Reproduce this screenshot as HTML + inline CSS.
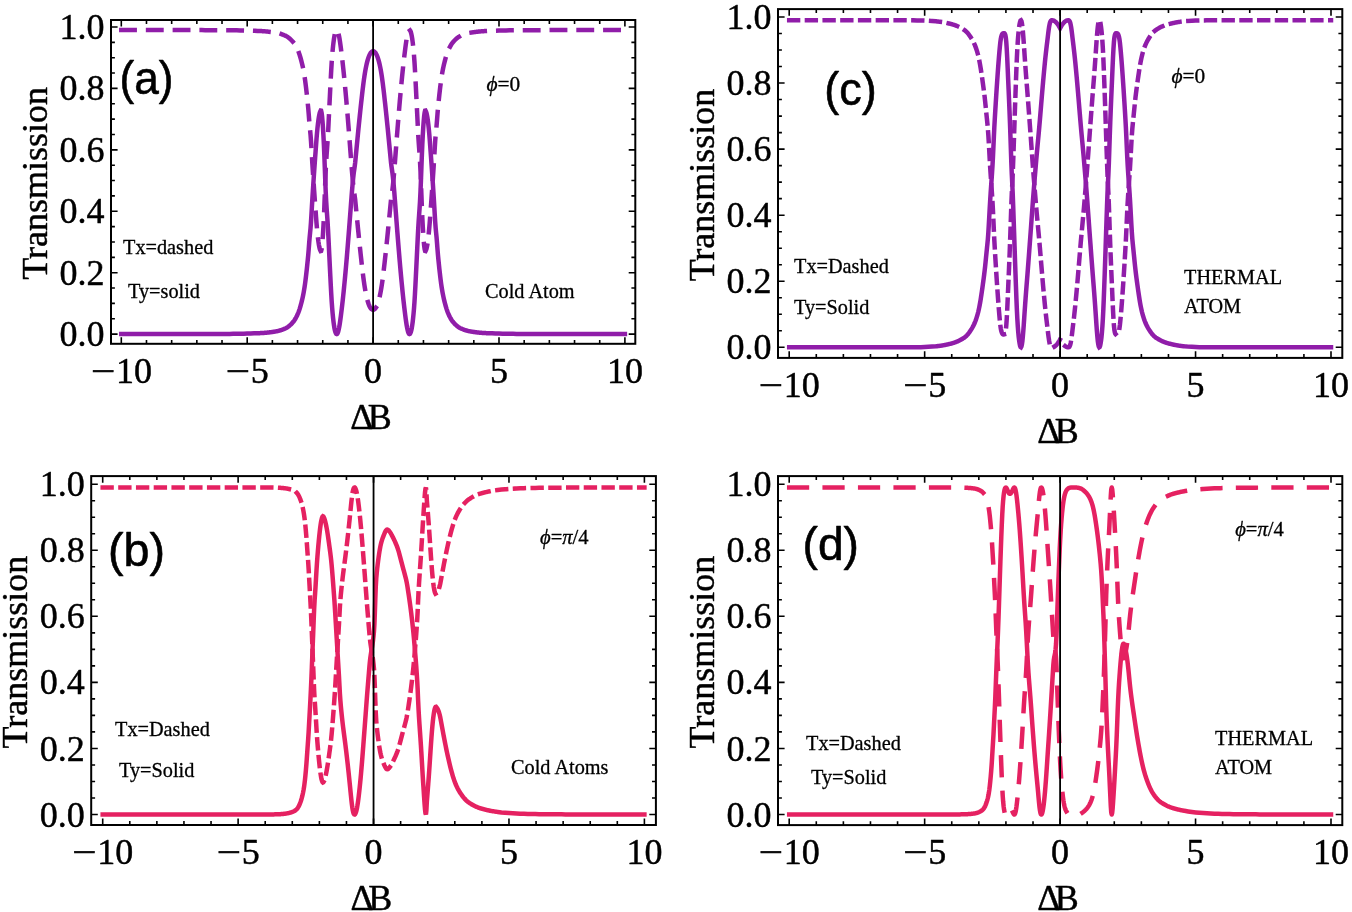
<!DOCTYPE html>
<html lang="en"><head><meta charset="utf-8"><title>Transmission versus ΔB</title>
<style>html,body{margin:0;padding:0;background:#fff;overflow:hidden}body{width:1352px;height:912px}svg{display:block}text{font-family:"Liberation Serif", "DejaVu Serif", serif;fill:#000;stroke:#000;stroke-width:.45px;stroke-linejoin:round}text.tag{font-family:"Liberation Sans", "DejaVu Sans", sans-serif;stroke-width:.6px}text.sm{stroke-width:.3px}</style></head><body>
<svg width="1352" height="912" viewBox="0 0 1352 912">
<rect width="1352" height="912" fill="#fff"/>
<g id="panel-a">
<clipPath id="clip-a"><rect x="111" y="20" width="524.3" height="323.8"/></clipPath>
<g clip-path="url(#clip-a)">
<path d="M121.3 30.07 L124.8 30.07 L128.29 30.07 L131.79 30.07 L135.28 30.07 L138.78 30.07 L142.28 30.07 L145.77 30.07 L149.27 30.07 L152.76 30.07 L156.26 30.07 L159.75 30.07 L163.25 30.07 L166.75 30.07 L170.24 30.07 L173.74 30.07 L177.23 30.08 L180.73 30.08 L184.23 30.08 L187.72 30.09 L191.22 30.09 L194.71 30.1 L198.21 30.1 L201.71 30.11 L205.2 30.13 L208.7 30.14 L212.19 30.16 L215.69 30.18 L219.19 30.2 L222.68 30.23 L226.18 30.26 L229.67 30.29 L233.17 30.32 L236.66 30.36 L240.16 30.42 L243.66 30.49 L247.15 30.57 L250.65 30.67 L254.14 30.79 L257.64 30.93 L258.1 30.95 L258.56 30.97 L259.02 30.99 L259.48 31.01 L259.94 31.03 L260.4 31.05 L260.86 31.07 L261.32 31.09 L261.78 31.12 L262.24 31.15 L262.7 31.17 L263.16 31.2 L263.62 31.24 L264.08 31.27 L264.54 31.31 L265 31.34 L265.46 31.38 L265.92 31.42 L266.38 31.47 L266.84 31.51 L267.3 31.56 L267.76 31.6 L268.22 31.65 L268.68 31.7 L269.14 31.76 L269.6 31.81 L270.06 31.87 L270.52 31.92 L270.98 31.98 L271.44 32.04 L271.9 32.11 L272.36 32.17 L272.82 32.24 L273.28 32.3 L273.74 32.37 L274.2 32.44 L274.66 32.51 L275.12 32.58 L275.58 32.66 L276.04 32.74 L276.5 32.83 L276.96 32.93 L277.42 33.02 L277.88 33.13 L278.34 33.24 L278.8 33.36 L279.26 33.48 L279.72 33.61 L280.18 33.75 L280.64 33.89 L281.1 34.04 L281.56 34.19 L282.02 34.35 L282.48 34.52 L282.94 34.69 L283.4 34.87 L283.86 35.06 L284.32 35.25 L284.78 35.45 L285.24 35.65 L285.7 35.87 L286.16 36.1 L286.62 36.36 L287.08 36.63 L287.54 36.93 L288 37.24 L288.46 37.57 L288.92 37.93 L289.38 38.3 L289.84 38.69 L290.3 39.1 L290.76 39.54 L291.22 39.98 L291.68 40.45 L292.14 40.94 L292.6 41.44 L293.06 41.97 L293.52 42.54 L293.98 43.15 L294.44 43.81 L294.9 44.51 L295.36 45.26 L295.82 46.06 L296.28 46.91 L296.74 47.81 L297.2 48.76 L297.66 49.76 L298.12 50.81 L298.58 51.96 L299.04 53.2 L299.5 54.54 L299.96 55.98 L300.42 57.51 L300.88 59.14 L301.34 60.87 L301.8 62.69 L302.26 64.61 L302.72 66.63 L303.18 68.8 L303.64 71.15 L304.1 73.71 L304.56 76.54 L305.02 79.66 L305.48 83.08 L305.94 86.77 L306.4 90.68 L306.86 94.78 L307.32 99.07 L307.78 103.59 L308.24 108.38 L308.7 113.83 L309.16 119.89 L309.62 125.55 L310.08 130.18 L310.54 134.88 L311 140.97 L311.46 148.39 L311.92 156.35 L312.38 164.05 L312.84 171.19 L313.3 178.17 L313.76 185 L314.22 191.67 L314.68 198.21 L315.14 204.62 L315.6 210.9 L316.06 217.07 L316.52 223.09 L316.98 228.56 L317.44 233.4 L317.9 237.63 L318.36 241.27 L318.82 244.33 L319.28 246.83 L319.74 248.79 L320.2 250.2 L320.66 251.1 L321.12 250.99 L321.58 249.15 L322.04 245.69 L322.5 240.72 L322.96 234.35 L323.42 226.68 L323.88 217.77 L324.34 206.87 L324.8 194.59 L325.26 182.14 L325.72 170.76 L326.18 161.59 L326.64 154.28 L327.1 147.8 L327.56 141.24 L328.02 133.74 L328.48 124.69 L328.94 115.26 L329.4 105.85 L329.86 96.56 L330.32 87.42 L330.78 78.35 L331.24 69.83 L331.7 62.27 L332.16 55.94 L332.62 50.55 L333.08 45.9 L333.54 41.94 L334 38.62 L334.46 35.89 L334.92 33.72 L335.38 32.07 L335.84 30.92 L336.3 30.26 L336.76 30.07 L337.22 30.36 L337.68 31.12 L338.14 32.35 L338.6 34.04 L339.06 36.18 L339.52 38.71 L339.98 41.61 L340.44 44.82 L340.9 48.29 L341.36 51.95 L341.82 55.73 L342.28 59.61 L342.74 63.66 L343.2 67.88 L343.66 72.27 L344.12 76.82 L344.58 81.5 L345.04 86.32 L345.5 91.26 L345.96 96.33 L346.42 101.53 L346.88 106.87 L347.34 112.33 L347.8 117.9 L348.26 123.58 L348.72 129.34 L349.18 135.18 L349.64 141.08 L350.1 147.02 L350.56 153.01 L351.02 159.03 L351.48 165.08 L351.94 170.85 L352.4 176.18 L352.86 181.13 L353.32 185.74 L353.78 189.56 L354.24 192.79 L354.7 195.96 L355.16 199.58 L355.62 204.11 L356.08 208.9 L356.54 213.66 L357 218.39 L357.46 223.09 L357.92 227.73 L358.38 232.33 L358.84 236.87 L359.3 241.35 L359.76 245.76 L360.22 250.11 L360.68 254.38 L361.14 258.57 L361.6 262.68 L362.06 266.7 L362.52 270.64 L362.98 274.48 L363.44 278.15 L363.9 281.57 L364.36 284.74 L364.82 287.66 L365.28 290.37 L365.74 292.85 L366.2 295.12 L366.66 297.19 L367.12 299.07 L367.58 300.78 L368.04 302.31 L368.5 303.68 L368.96 304.89 L369.42 305.96 L369.88 306.88 L370.34 307.67 L370.8 308.33 L371.26 308.86 L371.72 309.27 L372.18 309.57 L372.64 309.74 L373.1 309.8 L373.56 309.74 L374.02 309.57 L374.48 309.27 L374.94 308.86 L375.4 308.33 L375.86 307.67 L376.32 306.88 L376.78 305.96 L377.24 304.89 L377.7 303.68 L378.16 302.31 L378.62 300.78 L379.08 299.07 L379.54 297.19 L380 295.12 L380.46 292.85 L380.92 290.37 L381.38 287.66 L381.84 284.74 L382.3 281.57 L382.76 278.15 L383.22 274.48 L383.68 270.64 L384.14 266.7 L384.6 262.68 L385.06 258.57 L385.52 254.38 L385.98 250.11 L386.44 245.76 L386.9 241.35 L387.36 236.87 L387.82 232.33 L388.28 227.73 L388.74 223.09 L389.2 218.39 L389.66 213.66 L390.12 208.9 L390.58 204.11 L391.04 199.58 L391.5 195.96 L391.96 192.79 L392.42 189.56 L392.88 185.74 L393.34 181.13 L393.8 176.18 L394.26 170.85 L394.72 165.08 L395.18 159.03 L395.64 153.01 L396.1 147.02 L396.56 141.08 L397.02 135.18 L397.48 129.34 L397.94 123.58 L398.4 117.9 L398.86 112.33 L399.32 106.87 L399.78 101.53 L400.24 96.33 L400.7 91.26 L401.16 86.32 L401.62 81.5 L402.08 76.82 L402.54 72.27 L403 67.88 L403.46 63.66 L403.92 59.61 L404.38 55.73 L404.84 51.95 L405.3 48.29 L405.76 44.82 L406.22 41.61 L406.68 38.71 L407.14 36.18 L407.6 34.04 L408.06 32.35 L408.52 31.12 L408.98 30.36 L409.44 30.07 L409.9 30.26 L410.36 30.92 L410.82 32.07 L411.28 33.72 L411.74 35.89 L412.2 38.62 L412.66 41.94 L413.12 45.9 L413.58 50.55 L414.04 55.94 L414.5 62.27 L414.96 69.83 L415.42 78.35 L415.88 87.42 L416.34 96.56 L416.8 105.85 L417.26 115.26 L417.72 124.69 L418.18 133.74 L418.64 141.24 L419.1 147.8 L419.56 154.28 L420.02 161.59 L420.48 170.76 L420.94 182.14 L421.4 194.59 L421.86 206.87 L422.32 217.77 L422.78 226.68 L423.24 234.35 L423.7 240.72 L424.16 245.69 L424.62 249.15 L425.08 250.99 L425.54 251.1 L426 250.2 L426.46 248.79 L426.92 246.83 L427.38 244.33 L427.84 241.27 L428.3 237.63 L428.76 233.4 L429.22 228.56 L429.68 223.09 L430.14 217.07 L430.6 210.9 L431.06 204.62 L431.52 198.21 L431.98 191.67 L432.44 185 L432.9 178.17 L433.36 171.19 L433.82 164.05 L434.28 156.35 L434.74 148.39 L435.2 140.97 L435.66 134.88 L436.12 130.18 L436.58 125.55 L437.04 119.89 L437.5 113.83 L437.96 108.38 L438.42 103.59 L438.88 99.07 L439.34 94.78 L439.8 90.68 L440.26 86.77 L440.72 83.08 L441.18 79.66 L441.64 76.54 L442.1 73.71 L442.56 71.15 L443.02 68.8 L443.48 66.63 L443.94 64.61 L444.4 62.69 L444.86 60.87 L445.32 59.14 L445.78 57.51 L446.24 55.98 L446.7 54.54 L447.16 53.2 L447.62 51.96 L448.08 50.81 L448.54 49.76 L449 48.76 L449.46 47.81 L449.92 46.91 L450.38 46.06 L450.84 45.26 L451.3 44.51 L451.76 43.81 L452.22 43.15 L452.68 42.54 L453.14 41.97 L453.6 41.44 L454.06 40.94 L454.52 40.45 L454.98 39.98 L455.44 39.54 L455.9 39.1 L456.36 38.69 L456.82 38.3 L457.28 37.93 L457.74 37.57 L458.2 37.24 L458.66 36.93 L459.12 36.63 L459.58 36.36 L460.04 36.1 L460.5 35.87 L460.96 35.65 L461.42 35.45 L461.88 35.25 L462.34 35.06 L462.8 34.87 L463.26 34.69 L463.72 34.52 L464.18 34.35 L464.64 34.19 L465.1 34.04 L465.56 33.89 L466.02 33.75 L466.48 33.61 L466.94 33.48 L467.4 33.36 L467.86 33.24 L468.32 33.13 L468.78 33.02 L469.24 32.93 L469.7 32.83 L470.16 32.74 L470.62 32.66 L471.08 32.58 L471.54 32.51 L472 32.44 L472.46 32.37 L472.92 32.3 L473.38 32.24 L473.84 32.17 L474.3 32.11 L474.76 32.04 L475.22 31.98 L475.68 31.92 L476.14 31.87 L476.6 31.81 L477.06 31.76 L477.52 31.7 L477.98 31.65 L478.44 31.6 L478.9 31.56 L479.36 31.51 L479.82 31.47 L480.28 31.42 L480.74 31.38 L481.2 31.34 L481.66 31.31 L482.12 31.27 L482.58 31.24 L483.04 31.2 L483.5 31.17 L483.96 31.15 L484.42 31.12 L484.88 31.09 L485.34 31.07 L485.8 31.05 L486.26 31.03 L486.72 31.01 L487.18 30.99 L487.64 30.97 L488.1 30.95 L488.56 30.93 L492.06 30.79 L495.55 30.67 L499.05 30.57 L502.54 30.49 L506.04 30.42 L509.54 30.36 L513.03 30.32 L516.53 30.29 L520.02 30.26 L523.52 30.23 L527.01 30.2 L530.51 30.18 L534.01 30.16 L537.5 30.14 L541 30.13 L544.49 30.11 L547.99 30.1 L551.49 30.1 L554.98 30.09 L558.48 30.09 L561.97 30.08 L565.47 30.08 L568.97 30.08 L572.46 30.07 L575.96 30.07 L579.45 30.07 L582.95 30.07 L586.45 30.07 L589.94 30.07 L593.44 30.07 L596.93 30.07 L600.43 30.07 L603.92 30.07 L607.42 30.07 L610.92 30.07 L614.41 30.07 L617.91 30.07 L621.4 30.07 L624.9 30.07" fill="none" stroke="#901DA9" stroke-width="4.5" stroke-linecap="square" stroke-linejoin="miter" stroke-dasharray="13.39 13.39"/>
<path d="M121.3 334.1 L124.8 334.1 L128.29 334.1 L131.79 334.1 L135.28 334.1 L138.78 334.1 L142.28 334.1 L145.77 334.1 L149.27 334.1 L152.76 334.1 L156.26 334.1 L159.75 334.1 L163.25 334.1 L166.75 334.1 L170.24 334.1 L173.74 334.1 L177.23 334.1 L180.73 334.09 L184.23 334.09 L187.72 334.09 L191.22 334.08 L194.71 334.07 L198.21 334.07 L201.71 334.06 L205.2 334.05 L208.7 334.03 L212.19 334.01 L215.69 333.99 L219.19 333.97 L222.68 333.94 L226.18 333.91 L229.67 333.88 L233.17 333.84 L236.66 333.8 L240.16 333.75 L243.66 333.68 L247.15 333.59 L250.65 333.49 L254.14 333.37 L257.64 333.23 L258.1 333.21 L258.56 333.19 L259.02 333.17 L259.48 333.15 L259.94 333.13 L260.4 333.11 L260.86 333.09 L261.32 333.07 L261.78 333.04 L262.24 333.01 L262.7 332.98 L263.16 332.95 L263.62 332.92 L264.08 332.89 L264.54 332.85 L265 332.81 L265.46 332.77 L265.92 332.73 L266.38 332.69 L266.84 332.65 L267.3 332.6 L267.76 332.55 L268.22 332.5 L268.68 332.45 L269.14 332.4 L269.6 332.34 L270.06 332.28 L270.52 332.23 L270.98 332.17 L271.44 332.1 L271.9 332.04 L272.36 331.98 L272.82 331.91 L273.28 331.84 L273.74 331.77 L274.2 331.7 L274.66 331.63 L275.12 331.56 L275.58 331.48 L276.04 331.4 L276.5 331.31 L276.96 331.21 L277.42 331.11 L277.88 331.01 L278.34 330.89 L278.8 330.78 L279.26 330.65 L279.72 330.52 L280.18 330.38 L280.64 330.24 L281.1 330.09 L281.56 329.94 L282.02 329.77 L282.48 329.6 L282.94 329.43 L283.4 329.25 L283.86 329.06 L284.32 328.86 L284.78 328.66 L285.24 328.46 L285.7 328.24 L286.16 328 L286.62 327.74 L287.08 327.47 L287.54 327.17 L288 326.85 L288.46 326.51 L288.92 326.16 L289.38 325.78 L289.84 325.38 L290.3 324.97 L290.76 324.53 L291.22 324.08 L291.68 323.6 L292.14 323.11 L292.6 322.6 L293.06 322.07 L293.52 321.5 L293.98 320.88 L294.44 320.21 L294.9 319.5 L295.36 318.74 L295.82 317.93 L296.28 317.07 L296.74 316.16 L297.2 315.2 L297.66 314.19 L298.12 313.13 L298.58 311.97 L299.04 310.71 L299.5 309.36 L299.96 307.9 L300.42 306.35 L300.88 304.7 L301.34 302.96 L301.8 301.11 L302.26 299.18 L302.72 297.14 L303.18 294.94 L303.64 292.57 L304.1 289.97 L304.56 287.12 L305.02 283.96 L305.48 280.5 L305.94 276.78 L306.4 272.82 L306.86 268.67 L307.32 264.33 L307.78 259.76 L308.24 254.92 L308.7 249.4 L309.16 243.28 L309.62 237.56 L310.08 232.88 L310.54 228.12 L311 221.97 L311.46 214.46 L311.92 206.41 L312.38 198.63 L312.84 191.41 L313.3 184.35 L313.76 177.45 L314.22 170.7 L314.68 164.09 L315.14 157.61 L315.6 151.26 L316.06 145.02 L316.52 138.93 L316.98 133.4 L317.44 128.51 L317.9 124.23 L318.36 120.55 L318.82 117.45 L319.28 114.93 L319.74 112.95 L320.2 111.52 L320.66 110.62 L321.12 110.73 L321.58 112.59 L322.04 116.08 L322.5 121.1 L322.96 127.55 L323.42 135.31 L323.88 144.31 L324.34 155.33 L324.8 167.75 L325.26 180.34 L325.72 191.85 L326.18 201.12 L326.64 208.51 L327.1 215.06 L327.56 221.69 L328.02 229.28 L328.48 238.43 L328.94 247.96 L329.4 257.48 L329.86 266.87 L330.32 276.12 L330.78 285.29 L331.24 293.9 L331.7 301.54 L332.16 307.95 L332.62 313.39 L333.08 318.09 L333.54 322.1 L334 325.46 L334.46 328.22 L334.92 330.41 L335.38 332.08 L335.84 333.24 L336.3 333.91 L336.76 334.1 L337.22 333.81 L337.68 333.04 L338.14 331.8 L338.6 330.08 L339.06 327.93 L339.52 325.36 L339.98 322.43 L340.44 319.19 L340.9 315.68 L341.36 311.98 L341.82 308.15 L342.28 304.24 L342.74 300.14 L343.2 295.87 L343.66 291.43 L344.12 286.84 L344.58 282.1 L345.04 277.23 L345.5 272.23 L345.96 267.11 L346.42 261.84 L346.88 256.44 L347.34 250.92 L347.8 245.29 L348.26 239.55 L348.72 233.72 L349.18 227.82 L349.64 221.86 L350.1 215.85 L350.56 209.8 L351.02 203.71 L351.48 197.59 L351.94 191.75 L352.4 186.36 L352.86 181.36 L353.32 176.7 L353.78 172.84 L354.24 169.57 L354.7 166.37 L355.16 162.7 L355.62 158.12 L356.08 153.28 L356.54 148.46 L357 143.68 L357.46 138.94 L357.92 134.24 L358.38 129.59 L358.84 125 L359.3 120.48 L359.76 116.01 L360.22 111.62 L360.68 107.3 L361.14 103.06 L361.6 98.9 L362.06 94.84 L362.52 90.86 L362.98 86.98 L363.44 83.26 L363.9 79.81 L364.36 76.6 L364.82 73.64 L365.28 70.91 L365.74 68.4 L366.2 66.11 L366.66 64.01 L367.12 62.11 L367.58 60.38 L368.04 58.83 L368.5 57.45 L368.96 56.22 L369.42 55.15 L369.88 54.21 L370.34 53.41 L370.8 52.75 L371.26 52.21 L371.72 51.79 L372.18 51.5 L372.64 51.32 L373.1 51.26 L373.56 51.32 L374.02 51.5 L374.48 51.79 L374.94 52.21 L375.4 52.75 L375.86 53.41 L376.32 54.21 L376.78 55.15 L377.24 56.22 L377.7 57.45 L378.16 58.83 L378.62 60.38 L379.08 62.11 L379.54 64.01 L380 66.11 L380.46 68.4 L380.92 70.91 L381.38 73.64 L381.84 76.6 L382.3 79.81 L382.76 83.26 L383.22 86.98 L383.68 90.86 L384.14 94.84 L384.6 98.9 L385.06 103.06 L385.52 107.3 L385.98 111.62 L386.44 116.01 L386.9 120.48 L387.36 125 L387.82 129.59 L388.28 134.24 L388.74 138.94 L389.2 143.68 L389.66 148.46 L390.12 153.28 L390.58 158.12 L391.04 162.7 L391.5 166.37 L391.96 169.57 L392.42 172.84 L392.88 176.7 L393.34 181.36 L393.8 186.36 L394.26 191.75 L394.72 197.59 L395.18 203.71 L395.64 209.8 L396.1 215.85 L396.56 221.86 L397.02 227.82 L397.48 233.72 L397.94 239.55 L398.4 245.29 L398.86 250.92 L399.32 256.44 L399.78 261.84 L400.24 267.11 L400.7 272.23 L401.16 277.23 L401.62 282.1 L402.08 286.84 L402.54 291.43 L403 295.87 L403.46 300.14 L403.92 304.24 L404.38 308.15 L404.84 311.98 L405.3 315.68 L405.76 319.19 L406.22 322.43 L406.68 325.36 L407.14 327.93 L407.6 330.08 L408.06 331.8 L408.52 333.04 L408.98 333.81 L409.44 334.1 L409.9 333.91 L410.36 333.24 L410.82 332.08 L411.28 330.41 L411.74 328.22 L412.2 325.46 L412.66 322.1 L413.12 318.09 L413.58 313.39 L414.04 307.95 L414.5 301.54 L414.96 293.9 L415.42 285.29 L415.88 276.12 L416.34 266.87 L416.8 257.48 L417.26 247.96 L417.72 238.43 L418.18 229.28 L418.64 221.69 L419.1 215.06 L419.56 208.51 L420.02 201.12 L420.48 191.85 L420.94 180.34 L421.4 167.75 L421.86 155.33 L422.32 144.31 L422.78 135.31 L423.24 127.55 L423.7 121.1 L424.16 116.08 L424.62 112.59 L425.08 110.73 L425.54 110.62 L426 111.52 L426.46 112.95 L426.92 114.93 L427.38 117.45 L427.84 120.55 L428.3 124.23 L428.76 128.51 L429.22 133.4 L429.68 138.93 L430.14 145.02 L430.6 151.26 L431.06 157.61 L431.52 164.09 L431.98 170.7 L432.44 177.45 L432.9 184.35 L433.36 191.41 L433.82 198.63 L434.28 206.41 L434.74 214.46 L435.2 221.97 L435.66 228.12 L436.12 232.88 L436.58 237.56 L437.04 243.28 L437.5 249.4 L437.96 254.92 L438.42 259.76 L438.88 264.33 L439.34 268.67 L439.8 272.82 L440.26 276.78 L440.72 280.5 L441.18 283.96 L441.64 287.12 L442.1 289.97 L442.56 292.57 L443.02 294.94 L443.48 297.14 L443.94 299.18 L444.4 301.11 L444.86 302.96 L445.32 304.7 L445.78 306.35 L446.24 307.9 L446.7 309.36 L447.16 310.71 L447.62 311.97 L448.08 313.13 L448.54 314.19 L449 315.2 L449.46 316.16 L449.92 317.07 L450.38 317.93 L450.84 318.74 L451.3 319.5 L451.76 320.21 L452.22 320.88 L452.68 321.5 L453.14 322.07 L453.6 322.6 L454.06 323.11 L454.52 323.6 L454.98 324.08 L455.44 324.53 L455.9 324.97 L456.36 325.38 L456.82 325.78 L457.28 326.16 L457.74 326.51 L458.2 326.85 L458.66 327.17 L459.12 327.47 L459.58 327.74 L460.04 328 L460.5 328.24 L460.96 328.46 L461.42 328.66 L461.88 328.86 L462.34 329.06 L462.8 329.25 L463.26 329.43 L463.72 329.6 L464.18 329.77 L464.64 329.94 L465.1 330.09 L465.56 330.24 L466.02 330.38 L466.48 330.52 L466.94 330.65 L467.4 330.78 L467.86 330.89 L468.32 331.01 L468.78 331.11 L469.24 331.21 L469.7 331.31 L470.16 331.4 L470.62 331.48 L471.08 331.56 L471.54 331.63 L472 331.7 L472.46 331.77 L472.92 331.84 L473.38 331.91 L473.84 331.98 L474.3 332.04 L474.76 332.1 L475.22 332.17 L475.68 332.23 L476.14 332.28 L476.6 332.34 L477.06 332.4 L477.52 332.45 L477.98 332.5 L478.44 332.55 L478.9 332.6 L479.36 332.65 L479.82 332.69 L480.28 332.73 L480.74 332.77 L481.2 332.81 L481.66 332.85 L482.12 332.89 L482.58 332.92 L483.04 332.95 L483.5 332.98 L483.96 333.01 L484.42 333.04 L484.88 333.07 L485.34 333.09 L485.8 333.11 L486.26 333.13 L486.72 333.15 L487.18 333.17 L487.64 333.19 L488.1 333.21 L488.56 333.23 L492.06 333.37 L495.55 333.49 L499.05 333.59 L502.54 333.68 L506.04 333.75 L509.54 333.8 L513.03 333.84 L516.53 333.88 L520.02 333.91 L523.52 333.94 L527.01 333.97 L530.51 333.99 L534.01 334.01 L537.5 334.03 L541 334.05 L544.49 334.06 L547.99 334.07 L551.49 334.07 L554.98 334.08 L558.48 334.09 L561.97 334.09 L565.47 334.09 L568.97 334.1 L572.46 334.1 L575.96 334.1 L579.45 334.1 L582.95 334.1 L586.45 334.1 L589.94 334.1 L593.44 334.1 L596.93 334.1 L600.43 334.1 L603.92 334.1 L607.42 334.1 L610.92 334.1 L614.41 334.1 L617.91 334.1 L621.4 334.1 L624.9 334.1" fill="none" stroke="#901DA9" stroke-width="4.5" stroke-linecap="square" stroke-linejoin="miter"/>
</g>
<path d="M121.3 343.8 v-6.6 M121.3 20 v6.6 M146.48 343.8 v-3.9 M146.48 20 v3.9 M171.66 343.8 v-3.9 M171.66 20 v3.9 M196.84 343.8 v-3.9 M196.84 20 v3.9 M222.02 343.8 v-3.9 M222.02 20 v3.9 M247.2 343.8 v-6.6 M247.2 20 v6.6 M272.38 343.8 v-3.9 M272.38 20 v3.9 M297.56 343.8 v-3.9 M297.56 20 v3.9 M322.74 343.8 v-3.9 M322.74 20 v3.9 M347.92 343.8 v-3.9 M347.92 20 v3.9 M373.1 343.8 v-6.6 M373.1 20 v6.6 M398.28 343.8 v-3.9 M398.28 20 v3.9 M423.46 343.8 v-3.9 M423.46 20 v3.9 M448.64 343.8 v-3.9 M448.64 20 v3.9 M473.82 343.8 v-3.9 M473.82 20 v3.9 M499 343.8 v-6.6 M499 20 v6.6 M524.18 343.8 v-3.9 M524.18 20 v3.9 M549.36 343.8 v-3.9 M549.36 20 v3.9 M574.54 343.8 v-3.9 M574.54 20 v3.9 M599.72 343.8 v-3.9 M599.72 20 v3.9 M624.9 343.8 v-6.6 M624.9 20 v6.6 M111 334.1 h6.6 M635.3 334.1 h-6.6 M111 318.75 h3.9 M635.3 318.75 h-3.9 M111 303.39 h3.9 M635.3 303.39 h-3.9 M111 288.04 h3.9 M635.3 288.04 h-3.9 M111 272.68 h6.6 M635.3 272.68 h-6.6 M111 257.33 h3.9 M635.3 257.33 h-3.9 M111 241.97 h3.9 M635.3 241.97 h-3.9 M111 226.62 h3.9 M635.3 226.62 h-3.9 M111 211.26 h6.6 M635.3 211.26 h-6.6 M111 195.91 h3.9 M635.3 195.91 h-3.9 M111 180.55 h3.9 M635.3 180.55 h-3.9 M111 165.19 h3.9 M635.3 165.19 h-3.9 M111 149.84 h6.6 M635.3 149.84 h-6.6 M111 134.49 h3.9 M635.3 134.49 h-3.9 M111 119.13 h3.9 M635.3 119.13 h-3.9 M111 103.78 h3.9 M635.3 103.78 h-3.9 M111 88.42 h6.6 M635.3 88.42 h-6.6 M111 73.06 h3.9 M635.3 73.06 h-3.9 M111 57.71 h3.9 M635.3 57.71 h-3.9 M111 42.35 h3.9 M635.3 42.35 h-3.9 M111 27 h6.6 M635.3 27 h-6.6" stroke="#000" stroke-width="1.6" fill="none"/>
<line x1="373.1" y1="20" x2="373.1" y2="343.8" stroke="#000" stroke-width="1.8"/>
<rect x="111" y="20" width="524.3" height="323.8" fill="none" stroke="#000" stroke-width="2"/>
<text x="104.5" y="346.16" font-size="36" text-anchor="end">0.0</text>
<text x="104.5" y="284.74" font-size="36" text-anchor="end">0.2</text>
<text x="104.5" y="223.32" font-size="36" text-anchor="end">0.4</text>
<text x="104.5" y="161.9" font-size="36" text-anchor="end">0.6</text>
<text x="104.5" y="100.48" font-size="36" text-anchor="end">0.8</text>
<text x="104.5" y="39.06" font-size="36" text-anchor="end">1.0</text>
<text x="90.7" y="382.84" font-size="36"><tspan textLength="24.48" lengthAdjust="spacingAndGlyphs">−</tspan><tspan x="115.9">10</tspan></text>
<text x="225.6" y="382.84" font-size="36"><tspan textLength="24.48" lengthAdjust="spacingAndGlyphs">−</tspan><tspan x="250.8">5</tspan></text>
<text x="373.1" y="382.84" font-size="36" text-anchor="middle">0</text>
<text x="499" y="382.84" font-size="36" text-anchor="middle">5</text>
<text x="624.9" y="382.84" font-size="36" text-anchor="middle">10</text>
<text x="350.15" y="428.8" font-size="36">Δ<tspan dx="-5.5">B</tspan></text>
<text transform="translate(46.5 183.4) rotate(-90)" font-size="36" text-anchor="middle">Transmission</text>
</g>
<g id="panel-c">
<clipPath id="clip-c"><rect x="778" y="9.1" width="564.3" height="348.8"/></clipPath>
<g clip-path="url(#clip-c)">
<path d="M789.2 20.3 L792.96 20.3 L796.72 20.3 L800.48 20.3 L804.25 20.3 L808.01 20.3 L811.77 20.3 L815.53 20.3 L819.29 20.3 L823.05 20.3 L826.82 20.3 L830.58 20.3 L834.34 20.3 L838.1 20.3 L841.86 20.3 L845.62 20.3 L849.38 20.3 L853.15 20.3 L856.91 20.3 L860.67 20.3 L864.43 20.3 L868.19 20.3 L871.95 20.3 L875.72 20.3 L879.48 20.3 L883.24 20.3 L887 20.3 L890.76 20.3 L894.52 20.3 L898.28 20.3 L902.05 20.3 L905.81 20.31 L909.57 20.32 L913.33 20.35 L917.09 20.4 L920.85 20.47 L924.62 20.58 L928.38 20.75 L932.14 20.98 L935.9 21.3 L936.36 21.34 L936.82 21.39 L937.28 21.44 L937.74 21.49 L938.2 21.55 L938.66 21.61 L939.12 21.66 L939.58 21.73 L940.04 21.79 L940.5 21.86 L940.96 21.92 L941.42 21.99 L941.88 22.07 L942.34 22.14 L942.8 22.22 L943.26 22.3 L943.72 22.38 L944.18 22.47 L944.64 22.56 L945.1 22.64 L945.56 22.74 L946.02 22.83 L946.48 22.93 L946.94 23.03 L947.4 23.13 L947.86 23.23 L948.32 23.34 L948.78 23.45 L949.24 23.56 L949.7 23.67 L950.16 23.79 L950.62 23.91 L951.08 24.03 L951.54 24.15 L952 24.27 L952.46 24.4 L952.92 24.54 L953.38 24.68 L953.84 24.82 L954.3 24.98 L954.76 25.14 L955.22 25.3 L955.68 25.47 L956.14 25.65 L956.6 25.84 L957.06 26.03 L957.52 26.23 L957.98 26.43 L958.44 26.64 L958.9 26.86 L959.36 27.09 L959.82 27.32 L960.28 27.57 L960.74 27.81 L961.2 28.07 L961.66 28.33 L962.12 28.6 L962.58 28.88 L963.04 29.17 L963.5 29.46 L963.96 29.77 L964.42 30.08 L964.88 30.41 L965.34 30.77 L965.8 31.16 L966.26 31.59 L966.72 32.05 L967.18 32.55 L967.64 33.07 L968.1 33.63 L968.56 34.21 L969.02 34.82 L969.48 35.46 L969.94 36.12 L970.4 36.81 L970.86 37.52 L971.32 38.24 L971.78 38.99 L972.24 39.76 L972.7 40.57 L973.16 41.43 L973.62 42.35 L974.08 43.32 L974.54 44.35 L975 45.45 L975.46 46.63 L975.92 47.88 L976.38 49.22 L976.84 50.66 L977.3 52.2 L977.76 53.85 L978.22 55.64 L978.68 57.6 L979.14 59.75 L979.6 62.07 L980.06 64.59 L980.52 67.31 L980.98 70.21 L981.44 73.22 L981.9 76.33 L982.36 79.54 L982.82 82.85 L983.28 86.23 L983.74 89.66 L984.2 93.23 L984.66 97.05 L985.12 101.22 L985.58 105.69 L986.04 110.31 L986.5 114.89 L986.96 119.33 L987.42 123.85 L987.88 128.76 L988.34 135.01 L988.8 142.6 L989.26 150.94 L989.72 159.4 L990.18 167.33 L990.64 174.43 L991.1 181.09 L991.56 187.65 L992.02 194.43 L992.48 201.77 L992.94 210.19 L993.4 220.1 L993.86 230.45 L994.32 240.12 L994.78 248.37 L995.24 256.17 L995.7 263.72 L996.16 271.04 L996.62 278.14 L997.08 285.03 L997.54 291.72 L998 298.19 L998.46 304.36 L998.92 310.19 L999.38 315.62 L999.84 320.61 L1000.3 325.05 L1000.76 328.38 L1001.22 330.73 L1001.68 332.33 L1002.14 333.38 L1002.6 334 L1003.06 334.32 L1003.52 334.43 L1003.98 334.43 L1004.44 334.31 L1004.9 333.77 L1005.36 332.45 L1005.82 329.93 L1006.28 325.59 L1006.74 318.78 L1007.2 309.99 L1007.66 299.79 L1008.12 289.01 L1008.58 278.54 L1009.04 267.87 L1009.5 256.7 L1009.96 244.87 L1010.42 231.91 L1010.88 218.08 L1011.34 204.55 L1011.8 193.3 L1012.26 183.9 L1012.72 174.01 L1013.18 161.74 L1013.64 148.58 L1014.1 134.94 L1014.56 120.93 L1015.02 107.2 L1015.48 94 L1015.94 81.37 L1016.4 69.2 L1016.86 58.22 L1017.32 48.97 L1017.78 41.5 L1018.24 35.47 L1018.7 30.64 L1019.16 26.83 L1019.62 23.91 L1020.08 21.83 L1020.54 20.61 L1021 20.33 L1021.46 21.13 L1021.92 23.16 L1022.38 26.46 L1022.84 30.96 L1023.3 36.5 L1023.76 42.82 L1024.22 49.58 L1024.68 56.39 L1025.14 63 L1025.6 69.36 L1026.06 75.47 L1026.52 81.36 L1026.98 87.13 L1027.44 92.9 L1027.9 98.81 L1028.36 104.84 L1028.82 110.96 L1029.28 117.13 L1029.74 123.32 L1030.2 129.5 L1030.66 135.74 L1031.12 142.06 L1031.58 148.4 L1032.04 154.72 L1032.5 160.98 L1032.96 167.12 L1033.42 173.11 L1033.88 178.97 L1034.34 184.7 L1034.8 190.34 L1035.26 195.9 L1035.72 201.4 L1036.18 206.85 L1036.64 212.08 L1037.1 217.13 L1037.56 222.07 L1038.02 226.96 L1038.48 231.88 L1038.94 236.88 L1039.4 242.03 L1039.86 247.37 L1040.32 252.85 L1040.78 258.4 L1041.24 263.98 L1041.7 269.54 L1042.16 275.02 L1042.62 280.39 L1043.08 285.6 L1043.54 290.71 L1044 295.71 L1044.46 300.56 L1044.92 305.26 L1045.38 309.77 L1045.84 314.08 L1046.3 318.17 L1046.76 322.01 L1047.22 325.75 L1047.68 329.71 L1048.14 333.63 L1048.6 337.26 L1049.06 340.41 L1049.52 342.95 L1049.98 344.85 L1050.44 346.12 L1050.9 346.86 L1051.36 347.2 L1051.82 347.3 L1052.28 347.29 L1052.74 347.23 L1053.2 347.11 L1053.66 346.95 L1054.12 346.74 L1054.58 346.47 L1055.04 346.16 L1055.5 345.79 L1055.96 345.37 L1056.42 344.9 L1056.88 344.39 L1057.34 343.82 L1057.8 343.2 L1058.26 342.53 L1058.72 341.82 L1059.18 341.05 L1059.64 340.24 L1060.1 339.37 L1060.56 340.24 L1061.02 341.05 L1061.48 341.82 L1061.94 342.53 L1062.4 343.2 L1062.86 343.82 L1063.32 344.39 L1063.78 344.9 L1064.24 345.37 L1064.7 345.79 L1065.16 346.16 L1065.62 346.47 L1066.08 346.74 L1066.54 346.95 L1067 347.11 L1067.46 347.23 L1067.92 347.29 L1068.38 347.3 L1068.84 347.2 L1069.3 346.86 L1069.76 346.12 L1070.22 344.85 L1070.68 342.95 L1071.14 340.41 L1071.6 337.26 L1072.06 333.63 L1072.52 329.71 L1072.98 325.75 L1073.44 322.01 L1073.9 318.17 L1074.36 314.08 L1074.82 309.77 L1075.28 305.26 L1075.74 300.56 L1076.2 295.71 L1076.66 290.71 L1077.12 285.6 L1077.58 280.39 L1078.04 275.02 L1078.5 269.54 L1078.96 263.98 L1079.42 258.4 L1079.88 252.85 L1080.34 247.37 L1080.8 242.03 L1081.26 236.88 L1081.72 231.88 L1082.18 226.96 L1082.64 222.07 L1083.1 217.13 L1083.56 212.08 L1084.02 206.85 L1084.48 201.4 L1084.94 195.9 L1085.4 190.34 L1085.86 184.7 L1086.32 178.97 L1086.78 173.11 L1087.24 167.12 L1087.7 160.98 L1088.16 154.72 L1088.62 148.4 L1089.08 142.06 L1089.54 135.74 L1090 129.5 L1090.46 123.32 L1090.92 117.13 L1091.38 110.96 L1091.84 104.84 L1092.3 98.81 L1092.76 92.9 L1093.22 87.13 L1093.68 81.36 L1094.14 75.47 L1094.6 69.36 L1095.06 63 L1095.52 56.39 L1095.98 49.58 L1096.44 42.82 L1096.9 36.5 L1097.36 30.96 L1097.82 26.46 L1098.28 23.16 L1098.74 21.13 L1099.2 20.33 L1099.66 20.61 L1100.12 21.83 L1100.58 23.91 L1101.04 26.83 L1101.5 30.64 L1101.96 35.47 L1102.42 41.5 L1102.88 48.97 L1103.34 58.22 L1103.8 69.2 L1104.26 81.37 L1104.72 94 L1105.18 107.2 L1105.64 120.93 L1106.1 134.94 L1106.56 148.58 L1107.02 161.74 L1107.48 174.01 L1107.94 183.9 L1108.4 193.3 L1108.86 204.55 L1109.32 218.08 L1109.78 231.91 L1110.24 244.87 L1110.7 256.7 L1111.16 267.87 L1111.62 278.54 L1112.08 289.01 L1112.54 299.79 L1113 309.99 L1113.46 318.78 L1113.92 325.59 L1114.38 329.93 L1114.84 332.45 L1115.3 333.77 L1115.76 334.31 L1116.22 334.43 L1116.68 334.43 L1117.14 334.32 L1117.6 334 L1118.06 333.38 L1118.52 332.33 L1118.98 330.73 L1119.44 328.38 L1119.9 325.05 L1120.36 320.61 L1120.82 315.62 L1121.28 310.19 L1121.74 304.36 L1122.2 298.19 L1122.66 291.72 L1123.12 285.03 L1123.58 278.14 L1124.04 271.04 L1124.5 263.72 L1124.96 256.17 L1125.42 248.37 L1125.88 240.12 L1126.34 230.45 L1126.8 220.1 L1127.26 210.19 L1127.72 201.77 L1128.18 194.43 L1128.64 187.65 L1129.1 181.09 L1129.56 174.43 L1130.02 167.33 L1130.48 159.4 L1130.94 150.94 L1131.4 142.6 L1131.86 135.01 L1132.32 128.76 L1132.78 123.85 L1133.24 119.33 L1133.7 114.89 L1134.16 110.31 L1134.62 105.69 L1135.08 101.22 L1135.54 97.05 L1136 93.23 L1136.46 89.66 L1136.92 86.23 L1137.38 82.85 L1137.84 79.54 L1138.3 76.33 L1138.76 73.22 L1139.22 70.21 L1139.68 67.31 L1140.14 64.59 L1140.6 62.07 L1141.06 59.75 L1141.52 57.6 L1141.98 55.64 L1142.44 53.85 L1142.9 52.2 L1143.36 50.66 L1143.82 49.22 L1144.28 47.88 L1144.74 46.63 L1145.2 45.45 L1145.66 44.35 L1146.12 43.32 L1146.58 42.35 L1147.04 41.43 L1147.5 40.57 L1147.96 39.76 L1148.42 38.99 L1148.88 38.24 L1149.34 37.52 L1149.8 36.81 L1150.26 36.12 L1150.72 35.46 L1151.18 34.82 L1151.64 34.21 L1152.1 33.63 L1152.56 33.07 L1153.02 32.55 L1153.48 32.05 L1153.94 31.59 L1154.4 31.16 L1154.86 30.77 L1155.32 30.41 L1155.78 30.08 L1156.24 29.77 L1156.7 29.46 L1157.16 29.17 L1157.62 28.88 L1158.08 28.6 L1158.54 28.33 L1159 28.07 L1159.46 27.81 L1159.92 27.57 L1160.38 27.32 L1160.84 27.09 L1161.3 26.86 L1161.76 26.64 L1162.22 26.43 L1162.68 26.23 L1163.14 26.03 L1163.6 25.84 L1164.06 25.65 L1164.52 25.47 L1164.98 25.3 L1165.44 25.14 L1165.9 24.98 L1166.36 24.82 L1166.82 24.68 L1167.28 24.54 L1167.74 24.4 L1168.2 24.27 L1168.66 24.15 L1169.12 24.03 L1169.58 23.91 L1170.04 23.79 L1170.5 23.67 L1170.96 23.56 L1171.42 23.45 L1171.88 23.34 L1172.34 23.23 L1172.8 23.13 L1173.26 23.03 L1173.72 22.93 L1174.18 22.83 L1174.64 22.74 L1175.1 22.64 L1175.56 22.56 L1176.02 22.47 L1176.48 22.38 L1176.94 22.3 L1177.4 22.22 L1177.86 22.14 L1178.32 22.07 L1178.78 21.99 L1179.24 21.92 L1179.7 21.86 L1180.16 21.79 L1180.62 21.73 L1181.08 21.66 L1181.54 21.61 L1182 21.55 L1182.46 21.49 L1182.92 21.44 L1183.38 21.39 L1183.84 21.34 L1184.3 21.3 L1188.06 20.98 L1191.82 20.75 L1195.58 20.58 L1199.35 20.47 L1203.11 20.4 L1206.87 20.35 L1210.63 20.32 L1214.39 20.31 L1218.15 20.3 L1221.92 20.3 L1225.68 20.3 L1229.44 20.3 L1233.2 20.3 L1236.96 20.3 L1240.72 20.3 L1244.48 20.3 L1248.25 20.3 L1252.01 20.3 L1255.77 20.3 L1259.53 20.3 L1263.29 20.3 L1267.05 20.3 L1270.82 20.3 L1274.58 20.3 L1278.34 20.3 L1282.1 20.3 L1285.86 20.3 L1289.62 20.3 L1293.38 20.3 L1297.15 20.3 L1300.91 20.3 L1304.67 20.3 L1308.43 20.3 L1312.19 20.3 L1315.95 20.3 L1319.72 20.3 L1323.48 20.3 L1327.24 20.3 L1331 20.3" fill="none" stroke="#901DA9" stroke-width="4.5" stroke-linecap="square" stroke-linejoin="miter" stroke-dasharray="8.8695 8.8695"/>
<path d="M789.2 347.3 L792.96 347.3 L796.72 347.3 L800.48 347.3 L804.25 347.3 L808.01 347.3 L811.77 347.3 L815.53 347.3 L819.29 347.3 L823.05 347.3 L826.82 347.3 L830.58 347.3 L834.34 347.3 L838.1 347.3 L841.86 347.3 L845.62 347.3 L849.38 347.3 L853.15 347.3 L856.91 347.3 L860.67 347.3 L864.43 347.3 L868.19 347.3 L871.95 347.3 L875.72 347.3 L879.48 347.3 L883.24 347.3 L887 347.3 L890.76 347.3 L894.52 347.3 L898.28 347.3 L902.05 347.3 L905.81 347.3 L909.57 347.28 L913.33 347.25 L917.09 347.2 L920.85 347.13 L924.62 347.02 L928.38 346.86 L932.14 346.62 L935.9 346.31 L936.36 346.26 L936.82 346.21 L937.28 346.16 L937.74 346.11 L938.2 346.05 L938.66 346 L939.12 345.94 L939.58 345.88 L940.04 345.81 L940.5 345.75 L940.96 345.68 L941.42 345.61 L941.88 345.54 L942.34 345.46 L942.8 345.38 L943.26 345.3 L943.72 345.22 L944.18 345.14 L944.64 345.05 L945.1 344.96 L945.56 344.87 L946.02 344.77 L946.48 344.67 L946.94 344.58 L947.4 344.47 L947.86 344.37 L948.32 344.26 L948.78 344.15 L949.24 344.04 L949.7 343.93 L950.16 343.81 L950.62 343.7 L951.08 343.58 L951.54 343.46 L952 343.33 L952.46 343.2 L952.92 343.07 L953.38 342.93 L953.84 342.78 L954.3 342.63 L954.76 342.47 L955.22 342.3 L955.68 342.13 L956.14 341.95 L956.6 341.77 L957.06 341.57 L957.52 341.38 L957.98 341.17 L958.44 340.96 L958.9 340.74 L959.36 340.51 L959.82 340.28 L960.28 340.04 L960.74 339.79 L961.2 339.53 L961.66 339.27 L962.12 339 L962.58 338.72 L963.04 338.43 L963.5 338.14 L963.96 337.84 L964.42 337.53 L964.88 337.2 L965.34 336.83 L965.8 336.44 L966.26 336.01 L966.72 335.55 L967.18 335.06 L967.64 334.53 L968.1 333.98 L968.56 333.39 L969.02 332.78 L969.48 332.14 L969.94 331.48 L970.4 330.8 L970.86 330.09 L971.32 329.36 L971.78 328.62 L972.24 327.84 L972.7 327.03 L973.16 326.17 L973.62 325.25 L974.08 324.28 L974.54 323.25 L975 322.15 L975.46 320.98 L975.92 319.72 L976.38 318.38 L976.84 316.94 L977.3 315.41 L977.76 313.76 L978.22 311.97 L978.68 310 L979.14 307.86 L979.6 305.53 L980.06 303.01 L980.52 300.29 L980.98 297.39 L981.44 294.38 L981.9 291.27 L982.36 288.06 L982.82 284.75 L983.28 281.38 L983.74 277.95 L984.2 274.37 L984.66 270.55 L985.12 266.39 L985.58 261.91 L986.04 257.29 L986.5 252.72 L986.96 248.28 L987.42 243.75 L987.88 238.84 L988.34 232.59 L988.8 225 L989.26 216.66 L989.72 208.2 L990.18 200.27 L990.64 193.17 L991.1 186.51 L991.56 179.95 L992.02 173.17 L992.48 165.84 L992.94 157.42 L993.4 147.5 L993.86 137.15 L994.32 127.48 L994.78 119.23 L995.24 111.43 L995.7 103.88 L996.16 96.56 L996.62 89.46 L997.08 82.58 L997.54 75.88 L998 69.41 L998.46 63.24 L998.92 57.41 L999.38 51.98 L999.84 46.99 L1000.3 42.55 L1000.76 39.23 L1001.22 36.88 L1001.68 35.27 L1002.14 34.23 L1002.6 33.6 L1003.06 33.28 L1003.52 33.17 L1003.98 33.18 L1004.44 33.29 L1004.9 33.83 L1005.36 35.15 L1005.82 37.67 L1006.28 42.01 L1006.74 48.82 L1007.2 57.61 L1007.66 67.81 L1008.12 78.59 L1008.58 89.06 L1009.04 99.74 L1009.5 110.91 L1009.96 122.73 L1010.42 135.69 L1010.88 149.52 L1011.34 163.05 L1011.8 174.31 L1012.26 183.71 L1012.72 193.59 L1013.18 205.86 L1013.64 219.02 L1014.1 232.66 L1014.56 246.68 L1015.02 260.41 L1015.48 273.6 L1015.94 286.24 L1016.4 298.4 L1016.86 309.38 L1017.32 318.64 L1017.78 326.1 L1018.24 332.13 L1018.7 336.96 L1019.16 340.77 L1019.62 343.69 L1020.08 345.77 L1020.54 346.99 L1021 347.28 L1021.46 346.47 L1021.92 344.44 L1022.38 341.14 L1022.84 336.64 L1023.3 331.1 L1023.76 324.79 L1024.22 318.02 L1024.68 311.22 L1025.14 304.6 L1025.6 298.24 L1026.06 292.13 L1026.52 286.24 L1026.98 280.48 L1027.44 274.71 L1027.9 268.79 L1028.36 262.76 L1028.82 256.64 L1029.28 250.47 L1029.74 244.28 L1030.2 238.1 L1030.66 231.86 L1031.12 225.55 L1031.58 219.2 L1032.04 212.88 L1032.5 206.62 L1032.96 200.48 L1033.42 194.49 L1033.88 188.64 L1034.34 182.9 L1034.8 177.27 L1035.26 171.71 L1035.72 166.2 L1036.18 160.76 L1036.64 155.52 L1037.1 150.47 L1037.56 145.53 L1038.02 140.64 L1038.48 135.73 L1038.94 130.72 L1039.4 125.57 L1039.86 120.23 L1040.32 114.76 L1040.78 109.2 L1041.24 103.62 L1041.7 98.07 L1042.16 92.58 L1042.62 87.22 L1043.08 82 L1043.54 76.89 L1044 71.9 L1044.46 67.04 L1044.92 62.34 L1045.38 57.83 L1045.84 53.52 L1046.3 49.44 L1046.76 45.59 L1047.22 41.85 L1047.68 37.89 L1048.14 33.97 L1048.6 30.34 L1049.06 27.2 L1049.52 24.65 L1049.98 22.76 L1050.44 21.48 L1050.9 20.74 L1051.36 20.4 L1051.82 20.31 L1052.28 20.31 L1052.74 20.38 L1053.2 20.49 L1053.66 20.65 L1054.12 20.87 L1054.58 21.13 L1055.04 21.45 L1055.5 21.81 L1055.96 22.23 L1056.42 22.7 L1056.88 23.22 L1057.34 23.78 L1057.8 24.4 L1058.26 25.07 L1058.72 25.79 L1059.18 26.55 L1059.64 27.37 L1060.1 28.23 L1060.56 27.37 L1061.02 26.55 L1061.48 25.79 L1061.94 25.07 L1062.4 24.4 L1062.86 23.78 L1063.32 23.22 L1063.78 22.7 L1064.24 22.23 L1064.7 21.81 L1065.16 21.45 L1065.62 21.13 L1066.08 20.87 L1066.54 20.65 L1067 20.49 L1067.46 20.38 L1067.92 20.31 L1068.38 20.31 L1068.84 20.4 L1069.3 20.74 L1069.76 21.48 L1070.22 22.76 L1070.68 24.65 L1071.14 27.2 L1071.6 30.34 L1072.06 33.97 L1072.52 37.89 L1072.98 41.85 L1073.44 45.59 L1073.9 49.44 L1074.36 53.52 L1074.82 57.83 L1075.28 62.34 L1075.74 67.04 L1076.2 71.9 L1076.66 76.89 L1077.12 82 L1077.58 87.22 L1078.04 92.58 L1078.5 98.07 L1078.96 103.62 L1079.42 109.2 L1079.88 114.76 L1080.34 120.23 L1080.8 125.57 L1081.26 130.72 L1081.72 135.73 L1082.18 140.64 L1082.64 145.53 L1083.1 150.47 L1083.56 155.52 L1084.02 160.76 L1084.48 166.2 L1084.94 171.71 L1085.4 177.27 L1085.86 182.9 L1086.32 188.64 L1086.78 194.49 L1087.24 200.48 L1087.7 206.62 L1088.16 212.88 L1088.62 219.2 L1089.08 225.55 L1089.54 231.86 L1090 238.1 L1090.46 244.28 L1090.92 250.47 L1091.38 256.64 L1091.84 262.76 L1092.3 268.79 L1092.76 274.71 L1093.22 280.48 L1093.68 286.24 L1094.14 292.13 L1094.6 298.24 L1095.06 304.6 L1095.52 311.22 L1095.98 318.02 L1096.44 324.79 L1096.9 331.1 L1097.36 336.64 L1097.82 341.14 L1098.28 344.44 L1098.74 346.47 L1099.2 347.28 L1099.66 346.99 L1100.12 345.77 L1100.58 343.69 L1101.04 340.77 L1101.5 336.96 L1101.96 332.13 L1102.42 326.1 L1102.88 318.64 L1103.34 309.38 L1103.8 298.4 L1104.26 286.24 L1104.72 273.6 L1105.18 260.41 L1105.64 246.68 L1106.1 232.66 L1106.56 219.02 L1107.02 205.86 L1107.48 193.59 L1107.94 183.71 L1108.4 174.31 L1108.86 163.05 L1109.32 149.52 L1109.78 135.69 L1110.24 122.73 L1110.7 110.91 L1111.16 99.74 L1111.62 89.06 L1112.08 78.59 L1112.54 67.81 L1113 57.61 L1113.46 48.82 L1113.92 42.01 L1114.38 37.67 L1114.84 35.15 L1115.3 33.83 L1115.76 33.29 L1116.22 33.18 L1116.68 33.17 L1117.14 33.28 L1117.6 33.6 L1118.06 34.23 L1118.52 35.27 L1118.98 36.88 L1119.44 39.23 L1119.9 42.55 L1120.36 46.99 L1120.82 51.98 L1121.28 57.41 L1121.74 63.24 L1122.2 69.41 L1122.66 75.88 L1123.12 82.58 L1123.58 89.46 L1124.04 96.56 L1124.5 103.88 L1124.96 111.43 L1125.42 119.23 L1125.88 127.48 L1126.34 137.15 L1126.8 147.5 L1127.26 157.42 L1127.72 165.84 L1128.18 173.17 L1128.64 179.95 L1129.1 186.51 L1129.56 193.17 L1130.02 200.27 L1130.48 208.2 L1130.94 216.66 L1131.4 225 L1131.86 232.59 L1132.32 238.84 L1132.78 243.75 L1133.24 248.28 L1133.7 252.72 L1134.16 257.29 L1134.62 261.91 L1135.08 266.39 L1135.54 270.55 L1136 274.37 L1136.46 277.95 L1136.92 281.38 L1137.38 284.75 L1137.84 288.06 L1138.3 291.27 L1138.76 294.38 L1139.22 297.39 L1139.68 300.29 L1140.14 303.01 L1140.6 305.53 L1141.06 307.86 L1141.52 310 L1141.98 311.97 L1142.44 313.76 L1142.9 315.41 L1143.36 316.94 L1143.82 318.38 L1144.28 319.72 L1144.74 320.98 L1145.2 322.15 L1145.66 323.25 L1146.12 324.28 L1146.58 325.25 L1147.04 326.17 L1147.5 327.03 L1147.96 327.84 L1148.42 328.62 L1148.88 329.36 L1149.34 330.09 L1149.8 330.8 L1150.26 331.48 L1150.72 332.14 L1151.18 332.78 L1151.64 333.39 L1152.1 333.98 L1152.56 334.53 L1153.02 335.06 L1153.48 335.55 L1153.94 336.01 L1154.4 336.44 L1154.86 336.83 L1155.32 337.2 L1155.78 337.53 L1156.24 337.84 L1156.7 338.14 L1157.16 338.43 L1157.62 338.72 L1158.08 339 L1158.54 339.27 L1159 339.53 L1159.46 339.79 L1159.92 340.04 L1160.38 340.28 L1160.84 340.51 L1161.3 340.74 L1161.76 340.96 L1162.22 341.17 L1162.68 341.38 L1163.14 341.57 L1163.6 341.77 L1164.06 341.95 L1164.52 342.13 L1164.98 342.3 L1165.44 342.47 L1165.9 342.63 L1166.36 342.78 L1166.82 342.93 L1167.28 343.07 L1167.74 343.2 L1168.2 343.33 L1168.66 343.46 L1169.12 343.58 L1169.58 343.7 L1170.04 343.81 L1170.5 343.93 L1170.96 344.04 L1171.42 344.15 L1171.88 344.26 L1172.34 344.37 L1172.8 344.47 L1173.26 344.58 L1173.72 344.67 L1174.18 344.77 L1174.64 344.87 L1175.1 344.96 L1175.56 345.05 L1176.02 345.14 L1176.48 345.22 L1176.94 345.3 L1177.4 345.38 L1177.86 345.46 L1178.32 345.54 L1178.78 345.61 L1179.24 345.68 L1179.7 345.75 L1180.16 345.81 L1180.62 345.88 L1181.08 345.94 L1181.54 346 L1182 346.05 L1182.46 346.11 L1182.92 346.16 L1183.38 346.21 L1183.84 346.26 L1184.3 346.31 L1188.06 346.62 L1191.82 346.86 L1195.58 347.02 L1199.35 347.13 L1203.11 347.2 L1206.87 347.25 L1210.63 347.28 L1214.39 347.3 L1218.15 347.3 L1221.92 347.3 L1225.68 347.3 L1229.44 347.3 L1233.2 347.3 L1236.96 347.3 L1240.72 347.3 L1244.48 347.3 L1248.25 347.3 L1252.01 347.3 L1255.77 347.3 L1259.53 347.3 L1263.29 347.3 L1267.05 347.3 L1270.82 347.3 L1274.58 347.3 L1278.34 347.3 L1282.1 347.3 L1285.86 347.3 L1289.62 347.3 L1293.38 347.3 L1297.15 347.3 L1300.91 347.3 L1304.67 347.3 L1308.43 347.3 L1312.19 347.3 L1315.95 347.3 L1319.72 347.3 L1323.48 347.3 L1327.24 347.3 L1331 347.3" fill="none" stroke="#901DA9" stroke-width="4.5" stroke-linecap="square" stroke-linejoin="miter"/>
</g>
<path d="M789.2 357.9 v-6.6 M789.2 9.1 v6.6 M816.29 357.9 v-3.9 M816.29 9.1 v3.9 M843.38 357.9 v-3.9 M843.38 9.1 v3.9 M870.47 357.9 v-3.9 M870.47 9.1 v3.9 M897.56 357.9 v-3.9 M897.56 9.1 v3.9 M924.65 357.9 v-6.6 M924.65 9.1 v6.6 M951.74 357.9 v-3.9 M951.74 9.1 v3.9 M978.83 357.9 v-3.9 M978.83 9.1 v3.9 M1005.92 357.9 v-3.9 M1005.92 9.1 v3.9 M1033.01 357.9 v-3.9 M1033.01 9.1 v3.9 M1060.1 357.9 v-6.6 M1060.1 9.1 v6.6 M1087.19 357.9 v-3.9 M1087.19 9.1 v3.9 M1114.28 357.9 v-3.9 M1114.28 9.1 v3.9 M1141.37 357.9 v-3.9 M1141.37 9.1 v3.9 M1168.46 357.9 v-3.9 M1168.46 9.1 v3.9 M1195.55 357.9 v-6.6 M1195.55 9.1 v6.6 M1222.64 357.9 v-3.9 M1222.64 9.1 v3.9 M1249.73 357.9 v-3.9 M1249.73 9.1 v3.9 M1276.82 357.9 v-3.9 M1276.82 9.1 v3.9 M1303.91 357.9 v-3.9 M1303.91 9.1 v3.9 M1331 357.9 v-6.6 M1331 9.1 v6.6 M778 347.3 h6.6 M1342.3 347.3 h-6.6 M778 330.79 h3.9 M1342.3 330.79 h-3.9 M778 314.27 h3.9 M1342.3 314.27 h-3.9 M778 297.75 h3.9 M1342.3 297.75 h-3.9 M778 281.24 h6.6 M1342.3 281.24 h-6.6 M778 264.73 h3.9 M1342.3 264.73 h-3.9 M778 248.21 h3.9 M1342.3 248.21 h-3.9 M778 231.69 h3.9 M1342.3 231.69 h-3.9 M778 215.18 h6.6 M1342.3 215.18 h-6.6 M778 198.66 h3.9 M1342.3 198.66 h-3.9 M778 182.15 h3.9 M1342.3 182.15 h-3.9 M778 165.63 h3.9 M1342.3 165.63 h-3.9 M778 149.12 h6.6 M1342.3 149.12 h-6.6 M778 132.6 h3.9 M1342.3 132.6 h-3.9 M778 116.09 h3.9 M1342.3 116.09 h-3.9 M778 99.57 h3.9 M1342.3 99.57 h-3.9 M778 83.06 h6.6 M1342.3 83.06 h-6.6 M778 66.54 h3.9 M1342.3 66.54 h-3.9 M778 50.03 h3.9 M1342.3 50.03 h-3.9 M778 33.51 h3.9 M1342.3 33.51 h-3.9 M778 17 h6.6 M1342.3 17 h-6.6" stroke="#000" stroke-width="1.6" fill="none"/>
<line x1="1060.1" y1="9.1" x2="1060.1" y2="357.9" stroke="#000" stroke-width="1.8"/>
<rect x="778" y="9.1" width="564.3" height="348.8" fill="none" stroke="#000" stroke-width="2"/>
<text x="771.5" y="359.36" font-size="36" text-anchor="end">0.0</text>
<text x="771.5" y="293.3" font-size="36" text-anchor="end">0.2</text>
<text x="771.5" y="227.24" font-size="36" text-anchor="end">0.4</text>
<text x="771.5" y="161.18" font-size="36" text-anchor="end">0.6</text>
<text x="771.5" y="95.12" font-size="36" text-anchor="end">0.8</text>
<text x="771.5" y="29.06" font-size="36" text-anchor="end">1.0</text>
<text x="758.6" y="396.94" font-size="36"><tspan textLength="24.48" lengthAdjust="spacingAndGlyphs">−</tspan><tspan x="783.8">10</tspan></text>
<text x="903.05" y="396.94" font-size="36"><tspan textLength="24.48" lengthAdjust="spacingAndGlyphs">−</tspan><tspan x="928.25">5</tspan></text>
<text x="1060.1" y="396.94" font-size="36" text-anchor="middle">0</text>
<text x="1195.55" y="396.94" font-size="36" text-anchor="middle">5</text>
<text x="1331" y="396.94" font-size="36" text-anchor="middle">10</text>
<text x="1037.15" y="442.9" font-size="36">Δ<tspan dx="-5.5">B</tspan></text>
<text transform="translate(713.5 185) rotate(-90)" font-size="36" text-anchor="middle">Transmission</text>
</g>
<g id="panel-b">
<clipPath id="clip-b"><rect x="91.2" y="476.1" width="564.7" height="348.9"/></clipPath>
<g clip-path="url(#clip-b)">
<path d="M102.7 487.5 L106.46 487.5 L110.22 487.5 L113.98 487.5 L117.74 487.5 L121.49 487.5 L125.25 487.5 L129.01 487.5 L132.77 487.5 L136.53 487.5 L140.29 487.5 L144.05 487.5 L147.81 487.5 L151.56 487.5 L155.32 487.5 L159.08 487.5 L162.84 487.5 L166.6 487.5 L170.36 487.5 L174.12 487.5 L177.88 487.5 L181.63 487.5 L185.39 487.5 L189.15 487.5 L192.91 487.5 L196.67 487.5 L200.43 487.5 L204.19 487.5 L207.95 487.5 L211.7 487.5 L215.46 487.5 L219.22 487.5 L222.98 487.5 L226.74 487.5 L230.5 487.5 L234.26 487.5 L238.02 487.5 L241.77 487.5 L245.53 487.5 L249.29 487.5 L249.75 487.5 L250.21 487.5 L250.67 487.5 L251.13 487.5 L251.59 487.5 L252.05 487.5 L252.51 487.5 L252.97 487.5 L253.43 487.5 L253.89 487.5 L254.35 487.5 L254.81 487.5 L255.27 487.5 L255.73 487.5 L256.19 487.5 L256.65 487.5 L257.11 487.5 L257.57 487.5 L258.03 487.5 L258.49 487.5 L258.95 487.5 L259.41 487.5 L259.87 487.5 L260.33 487.5 L260.79 487.5 L261.25 487.51 L261.71 487.51 L262.17 487.51 L262.63 487.51 L263.09 487.51 L263.55 487.51 L264.01 487.51 L264.47 487.51 L264.93 487.51 L265.39 487.52 L265.85 487.52 L266.31 487.52 L266.77 487.52 L267.23 487.53 L267.69 487.53 L268.15 487.53 L268.61 487.54 L269.07 487.54 L269.53 487.55 L269.99 487.55 L270.45 487.56 L270.91 487.56 L271.37 487.57 L271.83 487.58 L272.29 487.59 L272.75 487.59 L273.21 487.6 L273.67 487.61 L274.13 487.62 L274.59 487.63 L275.05 487.64 L275.51 487.65 L275.97 487.66 L276.43 487.67 L276.89 487.68 L277.35 487.7 L277.81 487.71 L278.27 487.73 L278.73 487.75 L279.19 487.77 L279.65 487.79 L280.11 487.82 L280.57 487.85 L281.03 487.88 L281.49 487.92 L281.95 487.96 L282.41 488 L282.87 488.05 L283.33 488.09 L283.79 488.15 L284.25 488.2 L284.71 488.26 L285.17 488.32 L285.63 488.38 L286.09 488.45 L286.55 488.52 L287.01 488.59 L287.47 488.67 L287.93 488.76 L288.39 488.86 L288.85 488.96 L289.31 489.07 L289.77 489.19 L290.23 489.32 L290.69 489.46 L291.15 489.61 L291.61 489.76 L292.07 489.92 L292.53 490.1 L292.99 490.28 L293.45 490.47 L293.91 490.67 L294.37 490.9 L294.83 491.18 L295.29 491.49 L295.75 491.85 L296.21 492.26 L296.67 492.72 L297.13 493.24 L297.59 493.81 L298.05 494.49 L298.51 495.28 L298.97 496.17 L299.43 497.16 L299.89 498.24 L300.35 499.4 L300.81 500.66 L301.27 502.07 L301.73 503.64 L302.19 505.37 L302.65 507.27 L303.11 509.38 L303.57 511.8 L304.03 514.6 L304.49 517.87 L304.95 521.66 L305.41 526.05 L305.87 530.98 L306.33 536.51 L306.79 542.61 L307.25 549.09 L307.71 555.56 L308.17 561.91 L308.63 569.05 L309.09 577.39 L309.55 585.62 L310.01 593.69 L310.47 602.23 L310.93 611.42 L311.39 621.67 L311.85 633.05 L312.31 644.59 L312.77 656.14 L313.23 667.65 L313.69 679.37 L314.15 690.65 L314.61 699.15 L315.07 705.63 L315.53 712.62 L315.99 720.48 L316.45 728.22 L316.91 735.46 L317.37 741.84 L317.83 747.52 L318.29 752.74 L318.75 757.69 L319.21 762.35 L319.67 766.66 L320.13 770.53 L320.59 773.93 L321.05 776.81 L321.51 779.13 L321.97 780.87 L322.43 781.99 L322.89 782.47 L323.35 782.23 L323.81 781.47 L324.27 780.41 L324.73 779.08 L325.19 777.49 L325.65 775.64 L326.11 773.55 L326.57 771.22 L327.03 768.67 L327.49 765.91 L327.95 762.97 L328.41 759.86 L328.87 756.62 L329.33 753.29 L329.79 749.98 L330.25 746.57 L330.71 742.92 L331.17 738.87 L331.63 734.23 L332.09 729.02 L332.55 723.48 L333.01 717.66 L333.47 711.62 L333.93 705.5 L334.39 699.22 L334.85 692.48 L335.31 685.08 L335.77 677.35 L336.23 669.58 L336.69 661.9 L337.15 654.21 L337.61 646.52 L338.07 638.93 L338.53 631.45 L338.99 623.95 L339.45 615.25 L339.91 606.75 L340.37 600.26 L340.83 594.8 L341.29 590.03 L341.75 585.68 L342.21 581.51 L342.67 577.53 L343.13 573.8 L343.59 570.23 L344.05 566.75 L344.51 563.3 L344.97 559.81 L345.43 556.23 L345.89 552.53 L346.35 548.76 L346.81 544.92 L347.27 540.99 L347.73 536.95 L348.19 532.79 L348.65 528.51 L349.11 524.13 L349.57 519.66 L350.03 515.14 L350.49 510.53 L350.95 505.94 L351.41 501.59 L351.87 497.67 L352.33 494.3 L352.79 491.6 L353.25 489.6 L353.71 488.29 L354.17 487.63 L354.63 487.52 L355.09 487.87 L355.55 488.66 L356.01 489.91 L356.47 491.58 L356.93 493.68 L357.39 496.19 L357.85 499.09 L358.31 502.36 L358.77 505.97 L359.23 509.9 L359.69 514.13 L360.15 518.64 L360.61 523.42 L361.07 528.46 L361.53 533.74 L361.99 539.23 L362.45 544.9 L362.91 550.72 L363.37 556.66 L363.83 562.64 L364.29 568.64 L364.75 574.67 L365.21 580.73 L365.67 586.83 L366.13 592.99 L366.59 599.1 L367.05 604.99 L367.51 610.72 L367.97 616.31 L368.43 621.84 L368.89 627.34 L369.35 632.88 L369.81 637.85 L370.27 641.92 L370.73 645.31 L371.19 648.22 L371.65 650.9 L372.11 653.55 L372.57 656.41 L373.03 659.7 L373.49 663.64 L373.95 668.45 L374.41 675.63 L374.87 687.47 L375.33 700.98 L375.79 713.03 L376.25 720.86 L376.71 726.06 L377.17 730.64 L377.63 734.52 L378.09 738.02 L378.55 741.44 L379.01 744.67 L379.47 747.64 L379.93 750.31 L380.39 752.72 L380.85 754.83 L381.31 756.62 L381.77 758.2 L382.23 759.61 L382.69 760.91 L383.15 762.11 L383.61 763.28 L384.07 764.43 L384.53 765.55 L384.99 766.59 L385.45 767.51 L385.91 768.27 L386.37 768.85 L386.83 769.2 L387.29 769.29 L387.75 769.12 L388.21 768.83 L388.67 768.44 L389.13 767.96 L389.59 767.39 L390.05 766.74 L390.51 766.03 L390.97 765.26 L391.43 764.44 L391.89 763.59 L392.35 762.7 L392.81 761.81 L393.27 760.9 L393.73 759.99 L394.19 759.05 L394.65 758.08 L395.11 757.08 L395.57 756.04 L396.03 754.95 L396.49 753.83 L396.95 752.68 L397.41 751.45 L397.87 750.13 L398.33 748.69 L398.79 747.13 L399.25 745.51 L399.71 743.84 L400.17 742.12 L400.63 740.37 L401.09 738.61 L401.55 736.85 L402.01 735.1 L402.47 733.37 L402.93 731.68 L403.39 730.02 L403.85 728.36 L404.31 726.7 L404.77 725.02 L405.23 723.29 L405.69 721.51 L406.15 719.64 L406.61 717.49 L407.07 715.05 L407.53 712.36 L407.99 709.49 L408.45 706.49 L408.91 703.41 L409.37 700.3 L409.83 697.1 L410.29 693.76 L410.75 690.29 L411.21 686.67 L411.67 682.92 L412.13 679.03 L412.59 675 L413.05 670.78 L413.51 666.16 L413.97 661.19 L414.43 655.96 L414.89 650.58 L415.35 645.15 L415.81 639.58 L416.27 633.6 L416.73 627.1 L417.19 619.98 L417.65 611.52 L418.11 600.5 L418.57 591.09 L419.03 583.41 L419.49 576.43 L419.95 569.81 L420.41 563.25 L420.87 556.47 L421.33 549.22 L421.79 541.52 L422.25 533.69 L422.71 526.01 L423.17 518.76 L423.63 511.95 L424.09 504.88 L424.55 498.18 L425.01 492.6 L425.47 488.85 L425.93 487.5 L426.39 491.59 L426.85 500.31 L427.31 505.93 L427.77 511.75 L428.23 517.63 L428.69 523.56 L429.15 529.89 L429.61 536.6 L430.07 543.51 L430.53 550.42 L430.99 557.12 L431.45 563.48 L431.91 569.4 L432.37 574.76 L432.83 579.47 L433.29 583.47 L433.75 586.85 L434.21 589.6 L434.67 591.71 L435.13 593.16 L435.59 593.94 L436.05 594.04 L436.51 593.52 L436.97 592.86 L437.43 592.12 L437.89 591.26 L438.35 590.24 L438.81 589.04 L439.27 587.61 L439.73 585.92 L440.19 583.94 L440.65 581.63 L441.11 579.11 L441.57 576.61 L442.03 574.12 L442.49 571.66 L442.95 569.23 L443.41 566.81 L443.87 564.41 L444.33 562.05 L444.79 559.7 L445.25 557.39 L445.71 555.1 L446.17 552.84 L446.63 550.62 L447.09 548.46 L447.55 546.36 L448.01 544.3 L448.47 542.29 L448.93 540.32 L449.39 538.37 L449.85 536.46 L450.31 534.61 L450.77 532.82 L451.23 531.09 L451.69 529.43 L452.15 527.82 L452.61 526.28 L453.07 524.79 L453.53 523.36 L453.99 521.98 L454.45 520.68 L454.91 519.45 L455.37 518.28 L455.83 517.17 L456.29 516.12 L456.75 515.11 L457.21 514.16 L457.67 513.26 L458.13 512.39 L458.59 511.57 L459.05 510.78 L459.51 510.02 L459.97 509.29 L460.43 508.59 L460.89 507.91 L461.35 507.26 L461.81 506.62 L462.27 506 L462.73 505.4 L463.19 504.82 L463.65 504.25 L464.11 503.71 L464.57 503.19 L465.03 502.69 L465.49 502.21 L465.95 501.75 L466.41 501.31 L466.87 500.9 L467.33 500.5 L467.79 500.13 L468.25 499.78 L468.71 499.45 L469.17 499.13 L469.63 498.83 L470.09 498.53 L470.55 498.23 L471.01 497.95 L471.47 497.67 L471.93 497.39 L472.39 497.13 L472.85 496.87 L473.31 496.62 L473.77 496.37 L474.23 496.14 L474.69 495.91 L475.15 495.68 L475.61 495.47 L476.07 495.26 L476.53 495.06 L476.99 494.86 L477.45 494.67 L477.91 494.49 L478.37 494.32 L478.83 494.15 L479.29 493.99 L479.75 493.84 L480.21 493.69 L480.67 493.55 L481.13 493.42 L481.59 493.29 L482.05 493.16 L482.51 493.03 L482.97 492.9 L483.43 492.78 L483.89 492.66 L484.35 492.54 L484.81 492.42 L485.27 492.31 L485.73 492.19 L486.19 492.08 L486.65 491.97 L487.11 491.87 L487.57 491.77 L488.03 491.66 L488.49 491.57 L488.95 491.47 L489.41 491.38 L489.87 491.29 L490.33 491.2 L490.79 491.11 L491.25 491.03 L491.71 490.94 L492.17 490.87 L492.63 490.79 L493.09 490.71 L493.55 490.64 L494.01 490.57 L494.47 490.5 L494.93 490.44 L495.39 490.37 L495.85 490.3 L496.31 490.24 L496.77 490.18 L497.23 490.11 L497.69 490.05 L501.45 489.59 L505.22 489.21 L508.98 488.91 L512.74 488.68 L516.5 488.48 L520.26 488.32 L524.02 488.18 L527.79 488.07 L531.55 487.98 L535.31 487.91 L539.07 487.85 L542.83 487.8 L546.59 487.76 L550.36 487.72 L554.12 487.69 L557.88 487.66 L561.64 487.63 L565.4 487.61 L569.17 487.59 L572.93 487.58 L576.69 487.57 L580.45 487.56 L584.21 487.55 L587.97 487.54 L591.74 487.53 L595.5 487.53 L599.26 487.52 L603.02 487.52 L606.78 487.51 L610.54 487.51 L614.31 487.51 L618.07 487.51 L621.83 487.51 L625.59 487.5 L629.35 487.5 L633.11 487.5 L636.88 487.5 L640.64 487.5 L644.4 487.5" fill="none" stroke="#E52161" stroke-width="4.5" stroke-linecap="square" stroke-linejoin="miter" stroke-dasharray="8.873 8.873"/>
<path d="M102.7 814.5 L106.46 814.5 L110.22 814.5 L113.98 814.5 L117.74 814.5 L121.49 814.5 L125.25 814.5 L129.01 814.5 L132.77 814.5 L136.53 814.5 L140.29 814.5 L144.05 814.5 L147.81 814.5 L151.56 814.5 L155.32 814.5 L159.08 814.5 L162.84 814.5 L166.6 814.5 L170.36 814.5 L174.12 814.5 L177.88 814.5 L181.63 814.5 L185.39 814.5 L189.15 814.5 L192.91 814.5 L196.67 814.5 L200.43 814.5 L204.19 814.5 L207.95 814.5 L211.7 814.5 L215.46 814.5 L219.22 814.5 L222.98 814.5 L226.74 814.5 L230.5 814.5 L234.26 814.5 L238.02 814.5 L241.77 814.5 L245.53 814.5 L249.29 814.5 L249.75 814.5 L250.21 814.5 L250.67 814.5 L251.13 814.5 L251.59 814.5 L252.05 814.5 L252.51 814.5 L252.97 814.5 L253.43 814.5 L253.89 814.5 L254.35 814.5 L254.81 814.5 L255.27 814.5 L255.73 814.5 L256.19 814.5 L256.65 814.5 L257.11 814.5 L257.57 814.5 L258.03 814.5 L258.49 814.5 L258.95 814.5 L259.41 814.5 L259.87 814.5 L260.33 814.5 L260.79 814.5 L261.25 814.5 L261.71 814.5 L262.17 814.5 L262.63 814.5 L263.09 814.49 L263.55 814.49 L264.01 814.49 L264.47 814.49 L264.93 814.49 L265.39 814.49 L265.85 814.48 L266.31 814.48 L266.77 814.48 L267.23 814.47 L267.69 814.47 L268.15 814.47 L268.61 814.46 L269.07 814.46 L269.53 814.45 L269.99 814.45 L270.45 814.44 L270.91 814.44 L271.37 814.43 L271.83 814.42 L272.29 814.42 L272.75 814.41 L273.21 814.4 L273.67 814.39 L274.13 814.38 L274.59 814.37 L275.05 814.36 L275.51 814.35 L275.97 814.34 L276.43 814.33 L276.89 814.32 L277.35 814.3 L277.81 814.29 L278.27 814.27 L278.73 814.25 L279.19 814.23 L279.65 814.21 L280.11 814.18 L280.57 814.15 L281.03 814.12 L281.49 814.08 L281.95 814.04 L282.41 814 L282.87 813.95 L283.33 813.9 L283.79 813.85 L284.25 813.8 L284.71 813.74 L285.17 813.68 L285.63 813.61 L286.09 813.55 L286.55 813.48 L287.01 813.4 L287.47 813.32 L287.93 813.23 L288.39 813.13 L288.85 813.03 L289.31 812.91 L289.77 812.79 L290.23 812.66 L290.69 812.52 L291.15 812.37 L291.61 812.22 L292.07 812.05 L292.53 811.88 L292.99 811.7 L293.45 811.5 L293.91 811.3 L294.37 811.06 L294.83 810.79 L295.29 810.47 L295.75 810.1 L296.21 809.69 L296.67 809.22 L297.13 808.7 L297.59 808.12 L298.05 807.43 L298.51 806.64 L298.97 805.74 L299.43 804.74 L299.89 803.65 L300.35 802.48 L300.81 801.19 L301.27 799.77 L301.73 798.18 L302.19 796.44 L302.65 794.51 L303.11 792.38 L303.57 789.94 L304.03 787.1 L304.49 783.8 L304.95 779.96 L305.41 775.53 L305.87 770.54 L306.33 764.95 L306.79 758.78 L307.25 752.23 L307.71 745.69 L308.17 739.27 L308.63 732.04 L309.09 723.61 L309.55 715.29 L310.01 707.13 L310.47 698.5 L310.93 689.21 L311.39 678.84 L311.85 667.33 L312.31 655.67 L312.77 643.99 L313.23 632.34 L313.69 620.5 L314.15 609.09 L314.61 600.5 L315.07 593.95 L315.53 586.88 L315.99 578.93 L316.45 571.1 L316.91 563.79 L317.37 557.33 L317.83 551.59 L318.29 546.32 L318.75 541.31 L319.21 536.59 L319.67 532.24 L320.13 528.32 L320.59 524.89 L321.05 521.98 L321.51 519.63 L321.97 517.87 L322.43 516.73 L322.89 516.25 L323.35 516.49 L323.81 517.27 L324.27 518.33 L324.73 519.68 L325.19 521.29 L325.65 523.16 L326.11 525.28 L326.57 527.63 L327.03 530.21 L327.49 533 L327.95 535.97 L328.41 539.11 L328.87 542.39 L329.33 545.76 L329.79 549.1 L330.25 552.55 L330.71 556.24 L331.17 560.34 L331.63 565.03 L332.09 570.3 L332.55 575.9 L333.01 581.78 L333.47 587.89 L333.93 594.08 L334.39 600.43 L334.85 607.24 L335.31 614.73 L335.77 622.54 L336.23 630.4 L336.69 638.16 L337.15 645.94 L337.61 653.71 L338.07 661.39 L338.53 668.95 L338.99 676.54 L339.45 685.34 L339.91 693.93 L340.37 700.49 L340.83 706.01 L341.29 710.83 L341.75 715.23 L342.21 719.45 L342.67 723.47 L343.13 727.25 L343.59 730.86 L344.05 734.37 L344.51 737.86 L344.97 741.39 L345.43 745.01 L345.89 748.75 L346.35 752.56 L346.81 756.45 L347.27 760.42 L347.73 764.51 L348.19 768.71 L348.65 773.04 L349.11 777.47 L349.57 781.99 L350.03 786.56 L350.49 791.22 L350.95 795.86 L351.41 800.25 L351.87 804.22 L352.33 807.62 L352.79 810.36 L353.25 812.38 L353.71 813.7 L354.17 814.37 L354.63 814.48 L355.09 814.13 L355.55 813.33 L356.01 812.07 L356.47 810.37 L356.93 808.25 L357.39 805.71 L357.85 802.78 L358.31 799.48 L358.77 795.83 L359.23 791.85 L359.69 787.57 L360.15 783.02 L360.61 778.18 L361.07 773.08 L361.53 767.75 L361.99 762.2 L362.45 756.47 L362.91 750.58 L363.37 744.57 L363.83 738.53 L364.29 732.46 L364.75 726.37 L365.21 720.24 L365.67 714.07 L366.13 707.84 L366.59 701.66 L367.05 695.7 L367.51 689.92 L367.97 684.26 L368.43 678.67 L368.89 673.11 L369.35 667.51 L369.81 662.48 L370.27 658.36 L370.73 654.94 L371.19 651.99 L371.65 649.29 L372.11 646.61 L372.57 643.71 L373.03 640.39 L373.49 636.4 L373.95 631.54 L374.41 624.28 L374.87 612.31 L375.33 598.65 L375.79 586.46 L376.25 578.55 L376.71 573.29 L377.17 568.66 L377.63 564.74 L378.09 561.2 L378.55 557.74 L379.01 554.47 L379.47 551.47 L379.93 548.77 L380.39 546.34 L380.85 544.2 L381.31 542.39 L381.77 540.8 L382.23 539.36 L382.69 538.06 L383.15 536.84 L383.61 535.66 L384.07 534.49 L384.53 533.36 L384.99 532.31 L385.45 531.38 L385.91 530.61 L386.37 530.03 L386.83 529.67 L387.29 529.58 L387.75 529.75 L388.21 530.04 L388.67 530.43 L389.13 530.93 L389.59 531.5 L390.05 532.15 L390.51 532.88 L390.97 533.65 L391.43 534.48 L391.89 535.35 L392.35 536.24 L392.81 537.14 L393.27 538.06 L393.73 538.99 L394.19 539.93 L394.65 540.91 L395.11 541.92 L395.57 542.98 L396.03 544.08 L396.49 545.21 L396.95 546.38 L397.41 547.62 L397.87 548.95 L398.33 550.41 L398.79 551.98 L399.25 553.62 L399.71 555.32 L400.17 557.05 L400.63 558.82 L401.09 560.6 L401.55 562.38 L402.01 564.15 L402.47 565.9 L402.93 567.61 L403.39 569.29 L403.85 570.96 L404.31 572.64 L404.77 574.34 L405.23 576.09 L405.69 577.89 L406.15 579.78 L406.61 581.96 L407.07 584.43 L407.53 587.14 L407.99 590.04 L408.45 593.08 L408.91 596.19 L409.37 599.34 L409.83 602.58 L410.29 605.95 L410.75 609.46 L411.21 613.11 L411.67 616.91 L412.13 620.84 L412.59 624.92 L413.05 629.19 L413.51 633.86 L413.97 638.89 L414.43 644.17 L414.89 649.61 L415.35 655.1 L415.81 660.73 L416.27 666.78 L416.73 673.35 L417.19 680.55 L417.65 689.1 L418.11 700.25 L418.57 709.76 L419.03 717.53 L419.49 724.59 L419.95 731.27 L420.41 737.91 L420.87 744.77 L421.33 752.1 L421.79 759.88 L422.25 767.8 L422.71 775.56 L423.17 782.89 L423.63 789.79 L424.09 796.93 L424.55 803.71 L425.01 809.35 L425.47 813.14 L425.93 814.5 L426.39 810.37 L426.85 801.55 L427.31 795.87 L427.77 789.98 L428.23 784.04 L428.69 778.04 L429.15 771.64 L429.61 764.86 L430.07 757.87 L430.53 750.89 L430.99 744.11 L431.45 737.67 L431.91 731.69 L432.37 726.27 L432.83 721.51 L433.29 717.47 L433.75 714.05 L434.21 711.27 L434.67 709.13 L435.13 707.67 L435.59 706.88 L436.05 706.78 L436.51 707.3 L436.97 707.97 L437.43 708.72 L437.89 709.59 L438.35 710.62 L438.81 711.84 L439.27 713.28 L439.73 714.99 L440.19 717 L440.65 719.33 L441.11 721.87 L441.57 724.41 L442.03 726.92 L442.49 729.4 L442.95 731.87 L443.41 734.31 L443.87 736.73 L444.33 739.13 L444.79 741.5 L445.25 743.84 L445.71 746.15 L446.17 748.44 L446.63 750.68 L447.09 752.87 L447.55 754.99 L448.01 757.07 L448.47 759.1 L448.93 761.1 L449.39 763.07 L449.85 765 L450.31 766.87 L450.77 768.68 L451.23 770.43 L451.69 772.11 L452.15 773.73 L452.61 775.29 L453.07 776.8 L453.53 778.25 L453.99 779.64 L454.45 780.95 L454.91 782.2 L455.37 783.38 L455.83 784.51 L456.29 785.57 L456.75 786.58 L457.21 787.54 L457.67 788.46 L458.13 789.33 L458.59 790.17 L459.05 790.97 L459.51 791.73 L459.97 792.47 L460.43 793.18 L460.89 793.86 L461.35 794.53 L461.81 795.17 L462.27 795.8 L462.73 796.41 L463.19 797 L463.65 797.56 L464.11 798.11 L464.57 798.64 L465.03 799.14 L465.49 799.63 L465.95 800.09 L466.41 800.54 L466.87 800.96 L467.33 801.36 L467.79 801.73 L468.25 802.09 L468.71 802.42 L469.17 802.74 L469.63 803.05 L470.09 803.35 L470.55 803.65 L471.01 803.94 L471.47 804.22 L471.93 804.5 L472.39 804.77 L472.85 805.03 L473.31 805.28 L473.77 805.53 L474.23 805.77 L474.69 806 L475.15 806.23 L475.61 806.45 L476.07 806.66 L476.53 806.86 L476.99 807.06 L477.45 807.25 L477.91 807.43 L478.37 807.61 L478.83 807.78 L479.29 807.94 L479.75 808.09 L480.21 808.24 L480.67 808.38 L481.13 808.52 L481.59 808.65 L482.05 808.78 L482.51 808.91 L482.97 809.04 L483.43 809.17 L483.89 809.29 L484.35 809.41 L484.81 809.53 L485.27 809.64 L485.73 809.76 L486.19 809.87 L486.65 809.98 L487.11 810.09 L487.57 810.19 L488.03 810.29 L488.49 810.39 L488.95 810.49 L489.41 810.58 L489.87 810.68 L490.33 810.77 L490.79 810.85 L491.25 810.94 L491.71 811.02 L492.17 811.1 L492.63 811.18 L493.09 811.25 L493.55 811.33 L494.01 811.4 L494.47 811.47 L494.93 811.53 L495.39 811.6 L495.85 811.67 L496.31 811.73 L496.77 811.8 L497.23 811.86 L497.69 811.92 L501.45 812.39 L505.22 812.77 L508.98 813.07 L512.74 813.31 L516.5 813.51 L520.26 813.68 L524.02 813.82 L527.79 813.93 L531.55 814.02 L535.31 814.09 L539.07 814.15 L542.83 814.2 L546.59 814.24 L550.36 814.28 L554.12 814.31 L557.88 814.34 L561.64 814.37 L565.4 814.39 L569.17 814.41 L572.93 814.42 L576.69 814.43 L580.45 814.44 L584.21 814.45 L587.97 814.46 L591.74 814.47 L595.5 814.47 L599.26 814.48 L603.02 814.48 L606.78 814.49 L610.54 814.49 L614.31 814.49 L618.07 814.5 L621.83 814.5 L625.59 814.5 L629.35 814.5 L633.11 814.5 L636.88 814.5 L640.64 814.5 L644.4 814.5" fill="none" stroke="#E52161" stroke-width="4.5" stroke-linecap="square" stroke-linejoin="miter"/>
</g>
<path d="M102.7 825 v-6.6 M102.7 476.1 v6.6 M129.78 825 v-3.9 M129.78 476.1 v3.9 M156.87 825 v-3.9 M156.87 476.1 v3.9 M183.95 825 v-3.9 M183.95 476.1 v3.9 M211.04 825 v-3.9 M211.04 476.1 v3.9 M238.12 825 v-6.6 M238.12 476.1 v6.6 M265.21 825 v-3.9 M265.21 476.1 v3.9 M292.29 825 v-3.9 M292.29 476.1 v3.9 M319.38 825 v-3.9 M319.38 476.1 v3.9 M346.46 825 v-3.9 M346.46 476.1 v3.9 M373.55 825 v-6.6 M373.55 476.1 v6.6 M400.63 825 v-3.9 M400.63 476.1 v3.9 M427.72 825 v-3.9 M427.72 476.1 v3.9 M454.8 825 v-3.9 M454.8 476.1 v3.9 M481.89 825 v-3.9 M481.89 476.1 v3.9 M508.97 825 v-6.6 M508.97 476.1 v6.6 M536.06 825 v-3.9 M536.06 476.1 v3.9 M563.14 825 v-3.9 M563.14 476.1 v3.9 M590.23 825 v-3.9 M590.23 476.1 v3.9 M617.31 825 v-3.9 M617.31 476.1 v3.9 M644.4 825 v-6.6 M644.4 476.1 v6.6 M91.2 814.5 h6.6 M655.9 814.5 h-6.6 M91.2 797.99 h3.9 M655.9 797.99 h-3.9 M91.2 781.47 h3.9 M655.9 781.47 h-3.9 M91.2 764.96 h3.9 M655.9 764.96 h-3.9 M91.2 748.44 h6.6 M655.9 748.44 h-6.6 M91.2 731.92 h3.9 M655.9 731.92 h-3.9 M91.2 715.41 h3.9 M655.9 715.41 h-3.9 M91.2 698.89 h3.9 M655.9 698.89 h-3.9 M91.2 682.38 h6.6 M655.9 682.38 h-6.6 M91.2 665.87 h3.9 M655.9 665.87 h-3.9 M91.2 649.35 h3.9 M655.9 649.35 h-3.9 M91.2 632.84 h3.9 M655.9 632.84 h-3.9 M91.2 616.32 h6.6 M655.9 616.32 h-6.6 M91.2 599.8 h3.9 M655.9 599.8 h-3.9 M91.2 583.29 h3.9 M655.9 583.29 h-3.9 M91.2 566.77 h3.9 M655.9 566.77 h-3.9 M91.2 550.26 h6.6 M655.9 550.26 h-6.6 M91.2 533.74 h3.9 M655.9 533.74 h-3.9 M91.2 517.23 h3.9 M655.9 517.23 h-3.9 M91.2 500.71 h3.9 M655.9 500.71 h-3.9 M91.2 484.2 h6.6 M655.9 484.2 h-6.6" stroke="#000" stroke-width="1.6" fill="none"/>
<line x1="373.55" y1="476.1" x2="373.55" y2="825" stroke="#000" stroke-width="1.8"/>
<rect x="91.2" y="476.1" width="564.7" height="348.9" fill="none" stroke="#000" stroke-width="2"/>
<text x="84.7" y="826.56" font-size="36" text-anchor="end">0.0</text>
<text x="84.7" y="760.5" font-size="36" text-anchor="end">0.2</text>
<text x="84.7" y="694.44" font-size="36" text-anchor="end">0.4</text>
<text x="84.7" y="628.38" font-size="36" text-anchor="end">0.6</text>
<text x="84.7" y="562.32" font-size="36" text-anchor="end">0.8</text>
<text x="84.7" y="496.26" font-size="36" text-anchor="end">1.0</text>
<text x="72.1" y="864.04" font-size="36"><tspan textLength="24.48" lengthAdjust="spacingAndGlyphs">−</tspan><tspan x="97.3">10</tspan></text>
<text x="216.53" y="864.04" font-size="36"><tspan textLength="24.48" lengthAdjust="spacingAndGlyphs">−</tspan><tspan x="241.72">5</tspan></text>
<text x="373.55" y="864.04" font-size="36" text-anchor="middle">0</text>
<text x="508.97" y="864.04" font-size="36" text-anchor="middle">5</text>
<text x="644.4" y="864.04" font-size="36" text-anchor="middle">10</text>
<text x="350.55" y="910" font-size="36">Δ<tspan dx="-5.5">B</tspan></text>
<text transform="translate(26.7 652.05) rotate(-90)" font-size="36" text-anchor="middle">Transmission</text>
</g>
<g id="panel-d">
<clipPath id="clip-d"><rect x="778" y="476.1" width="564.3" height="349"/></clipPath>
<g clip-path="url(#clip-d)">
<path d="M789.2 487.5 L792.95 487.5 L796.7 487.5 L800.46 487.5 L804.21 487.5 L807.96 487.5 L811.71 487.5 L815.46 487.5 L819.22 487.5 L822.97 487.5 L826.72 487.5 L830.47 487.5 L834.22 487.5 L837.98 487.5 L841.73 487.5 L845.48 487.5 L849.23 487.5 L852.98 487.5 L856.74 487.5 L860.49 487.5 L864.24 487.5 L867.99 487.5 L871.74 487.5 L875.5 487.5 L879.25 487.5 L883 487.5 L886.75 487.5 L890.5 487.5 L894.25 487.5 L898.01 487.5 L901.76 487.5 L905.51 487.5 L909.26 487.5 L913.01 487.5 L916.77 487.5 L920.52 487.5 L924.27 487.5 L928.02 487.5 L931.77 487.5 L935.53 487.5 L935.99 487.5 L936.45 487.5 L936.91 487.5 L937.37 487.5 L937.83 487.5 L938.29 487.5 L938.75 487.5 L939.21 487.5 L939.67 487.5 L940.13 487.5 L940.59 487.5 L941.05 487.5 L941.51 487.5 L941.97 487.5 L942.43 487.5 L942.89 487.5 L943.35 487.5 L943.81 487.5 L944.27 487.5 L944.73 487.5 L945.19 487.5 L945.65 487.5 L946.11 487.5 L946.57 487.5 L947.03 487.51 L947.49 487.51 L947.95 487.51 L948.41 487.51 L948.87 487.51 L949.33 487.51 L949.79 487.51 L950.25 487.51 L950.71 487.51 L951.17 487.52 L951.63 487.52 L952.09 487.52 L952.55 487.53 L953.01 487.53 L953.47 487.53 L953.93 487.54 L954.39 487.54 L954.85 487.54 L955.31 487.55 L955.77 487.55 L956.23 487.56 L956.69 487.57 L957.15 487.57 L957.61 487.58 L958.07 487.58 L958.53 487.59 L958.99 487.6 L959.45 487.61 L959.91 487.62 L960.37 487.62 L960.83 487.63 L961.29 487.64 L961.75 487.65 L962.21 487.66 L962.67 487.67 L963.13 487.68 L963.59 487.69 L964.05 487.7 L964.51 487.72 L964.97 487.73 L965.43 487.75 L965.89 487.76 L966.35 487.78 L966.81 487.8 L967.27 487.83 L967.73 487.85 L968.19 487.88 L968.65 487.91 L969.11 487.94 L969.57 487.98 L970.03 488.01 L970.49 488.05 L970.95 488.1 L971.41 488.14 L971.87 488.19 L972.33 488.24 L972.79 488.3 L973.25 488.36 L973.71 488.42 L974.17 488.49 L974.63 488.56 L975.09 488.64 L975.55 488.74 L976.01 488.85 L976.47 488.97 L976.93 489.11 L977.39 489.26 L977.85 489.43 L978.31 489.61 L978.77 489.8 L979.23 490 L979.69 490.22 L980.15 490.45 L980.61 490.69 L981.07 490.96 L981.53 491.26 L981.99 491.62 L982.45 492.01 L982.91 492.47 L983.37 492.98 L983.83 493.56 L984.29 494.24 L984.75 495.07 L985.21 496.05 L985.67 497.16 L986.13 498.37 L986.59 499.68 L987.05 501.09 L987.51 502.69 L987.97 504.54 L988.43 506.69 L988.89 509.25 L989.35 512.44 L989.81 516.28 L990.27 520.7 L990.73 525.62 L991.19 531.04 L991.65 537.25 L992.11 544.55 L992.57 552.38 L993.03 559.81 L993.49 567.61 L993.95 576.75 L994.41 585.99 L994.87 594.86 L995.33 605.33 L995.79 617.17 L996.25 629.29 L996.71 640.59 L997.17 651.02 L997.63 661.45 L998.09 672.73 L998.55 685.36 L999.01 698.94 L999.47 712.91 L999.93 726.78 L1000.39 740.25 L1000.85 753.09 L1001.31 765.49 L1001.77 777.04 L1002.23 787.1 L1002.69 795.27 L1003.15 801.54 L1003.61 806.25 L1004.07 809.68 L1004.53 812.05 L1004.99 813.56 L1005.45 814.34 L1005.91 814.48 L1006.37 814.08 L1006.83 813.31 L1007.29 812.31 L1007.75 811.22 L1008.21 810.17 L1008.67 809.26 L1009.13 808.58 L1009.59 808.19 L1010.05 808.14 L1010.51 808.4 L1010.97 808.9 L1011.43 809.58 L1011.89 810.43 L1012.35 811.39 L1012.81 812.39 L1013.27 813.33 L1013.73 814.08 L1014.19 814.48 L1014.65 814.34 L1015.11 813.52 L1015.57 811.95 L1016.03 809.59 L1016.49 806.49 L1016.95 802.73 L1017.41 798.43 L1017.87 793.78 L1018.33 788.96 L1018.79 783.82 L1019.25 778.26 L1019.71 772.31 L1020.17 766 L1020.63 759.36 L1021.09 752.4 L1021.55 745.16 L1022.01 737.64 L1022.47 729.9 L1022.93 721.99 L1023.39 713.95 L1023.85 706.06 L1024.31 698.9 L1024.77 692.21 L1025.23 685.63 L1025.69 678.81 L1026.15 671.38 L1026.61 662.94 L1027.07 653.84 L1027.53 644.81 L1027.99 636.53 L1028.45 629.48 L1028.91 623.16 L1029.37 617.29 L1029.83 611.62 L1030.29 605.92 L1030.75 599.95 L1031.21 593.52 L1031.67 586.94 L1032.13 580.45 L1032.59 574.07 L1033.05 567.83 L1033.51 561.73 L1033.97 555.8 L1034.43 550.07 L1034.89 544.58 L1035.35 539.28 L1035.81 534.13 L1036.27 529.12 L1036.73 524.22 L1037.19 519.44 L1037.65 514.75 L1038.11 509.68 L1038.57 504.41 L1039.03 499.4 L1039.49 495.03 L1039.95 491.57 L1040.41 489.18 L1040.87 487.87 L1041.33 487.5 L1041.79 487.92 L1042.25 489.07 L1042.71 490.95 L1043.17 493.54 L1043.63 496.81 L1044.09 500.71 L1044.55 505.22 L1045.01 510.29 L1045.47 515.85 L1045.93 521.89 L1046.39 528.35 L1046.85 535.13 L1047.31 542.08 L1047.77 549.05 L1048.23 555.89 L1048.69 562.7 L1049.15 569.63 L1049.61 576.67 L1050.07 583.85 L1050.53 591.17 L1050.99 598.64 L1051.45 606.16 L1051.91 613.72 L1052.37 621.32 L1052.83 628.96 L1053.29 636.46 L1053.75 641.65 L1054.21 644.75 L1054.67 646.86 L1055.13 649.07 L1055.59 652.5 L1056.05 658.25 L1056.51 667.4 L1056.97 680.13 L1057.43 693.41 L1057.89 706.45 L1058.35 718.92 L1058.81 730.9 L1059.27 742.31 L1059.73 753.04 L1060.19 762.44 L1060.65 770.44 L1061.11 777.29 L1061.57 783.23 L1062.03 788.44 L1062.49 793.05 L1062.95 797.01 L1063.41 800.35 L1063.87 803.15 L1064.33 805.47 L1064.79 807.37 L1065.25 808.91 L1065.71 810.14 L1066.17 811.1 L1066.63 811.85 L1067.09 812.45 L1067.55 812.96 L1068.01 813.37 L1068.47 813.7 L1068.93 813.96 L1069.39 814.16 L1069.85 814.3 L1070.31 814.39 L1070.77 814.45 L1071.23 814.48 L1071.69 814.5 L1072.15 814.5 L1072.61 814.5 L1073.07 814.49 L1073.53 814.49 L1073.99 814.49 L1074.45 814.5 L1074.91 814.5 L1075.37 814.5 L1075.83 814.49 L1076.29 814.46 L1076.75 814.43 L1077.21 814.38 L1077.67 814.32 L1078.13 814.24 L1078.59 814.15 L1079.05 814.04 L1079.51 813.91 L1079.97 813.76 L1080.43 813.58 L1080.89 813.38 L1081.35 813.16 L1081.81 812.91 L1082.27 812.63 L1082.73 812.32 L1083.19 811.98 L1083.65 811.61 L1084.11 811.22 L1084.57 810.81 L1085.03 810.38 L1085.49 809.93 L1085.95 809.46 L1086.41 808.95 L1086.87 808.42 L1087.33 807.85 L1087.79 807.24 L1088.25 806.58 L1088.71 805.87 L1089.17 805.09 L1089.63 804.25 L1090.09 803.33 L1090.55 802.32 L1091.01 801.21 L1091.47 799.99 L1091.93 798.64 L1092.39 797.16 L1092.85 795.48 L1093.31 793.58 L1093.77 791.46 L1094.23 789.13 L1094.69 786.59 L1095.15 783.86 L1095.61 780.95 L1096.07 777.88 L1096.53 774.69 L1096.99 771.38 L1097.45 767.91 L1097.91 764.25 L1098.37 760.42 L1098.83 756.41 L1099.29 752.23 L1099.75 747.88 L1100.21 743.29 L1100.67 738.21 L1101.13 732.36 L1101.59 725.43 L1102.05 717.07 L1102.51 707.39 L1102.97 697.13 L1103.43 686.9 L1103.89 675.28 L1104.35 660.91 L1104.81 645.45 L1105.27 629.87 L1105.73 612.64 L1106.19 595.52 L1106.65 582.94 L1107.11 571.73 L1107.57 561.32 L1108.03 551.68 L1108.49 542.86 L1108.95 534.35 L1109.41 525.35 L1109.87 515.44 L1110.33 505.49 L1110.79 495.97 L1111.25 489.46 L1111.71 487.5 L1112.17 489.05 L1112.63 493.43 L1113.09 499.8 L1113.55 506.9 L1114.01 514.32 L1114.47 522.21 L1114.93 530.4 L1115.39 538.78 L1115.85 547.41 L1116.31 556.63 L1116.77 567.09 L1117.23 579.29 L1117.69 591.65 L1118.15 602.49 L1118.61 611.57 L1119.07 619.26 L1119.53 625.97 L1119.99 632.18 L1120.45 637.95 L1120.91 643.17 L1121.37 647.76 L1121.83 651.63 L1122.29 654.7 L1122.75 656.89 L1123.21 658.1 L1123.67 658.27 L1124.13 657.42 L1124.59 656.15 L1125.05 654.56 L1125.51 652.64 L1125.97 650.38 L1126.43 647.77 L1126.89 644.82 L1127.35 641.5 L1127.81 637.82 L1128.27 633.77 L1128.73 629.31 L1129.19 624.54 L1129.65 619.76 L1130.11 615.25 L1130.57 611.29 L1131.03 607.6 L1131.49 603.97 L1131.95 600.48 L1132.41 597.17 L1132.87 594.01 L1133.33 590.91 L1133.79 587.83 L1134.25 584.76 L1134.71 581.66 L1135.17 578.55 L1135.63 575.44 L1136.09 572.36 L1136.55 569.35 L1137.01 566.42 L1137.47 563.59 L1137.93 560.85 L1138.39 558.17 L1138.85 555.55 L1139.31 552.98 L1139.77 550.46 L1140.23 548.02 L1140.69 545.66 L1141.15 543.38 L1141.61 541.16 L1142.07 539.02 L1142.53 536.96 L1142.99 535.02 L1143.45 533.18 L1143.91 531.44 L1144.37 529.79 L1144.83 528.21 L1145.29 526.71 L1145.75 525.27 L1146.21 523.88 L1146.67 522.54 L1147.13 521.24 L1147.59 519.99 L1148.05 518.79 L1148.51 517.63 L1148.97 516.51 L1149.43 515.44 L1149.89 514.41 L1150.35 513.43 L1150.81 512.48 L1151.27 511.58 L1151.73 510.73 L1152.19 509.91 L1152.65 509.14 L1153.11 508.4 L1153.57 507.7 L1154.03 507.02 L1154.49 506.36 L1154.95 505.73 L1155.41 505.13 L1155.87 504.55 L1156.33 503.99 L1156.79 503.46 L1157.25 502.95 L1157.71 502.46 L1158.17 502 L1158.63 501.56 L1159.09 501.15 L1159.55 500.76 L1160.01 500.39 L1160.47 500.04 L1160.93 499.71 L1161.39 499.41 L1161.85 499.11 L1162.31 498.82 L1162.77 498.54 L1163.23 498.26 L1163.69 497.99 L1164.15 497.72 L1164.61 497.46 L1165.07 497.21 L1165.53 496.96 L1165.99 496.72 L1166.45 496.49 L1166.91 496.26 L1167.37 496.04 L1167.83 495.82 L1168.29 495.61 L1168.75 495.41 L1169.21 495.21 L1169.67 495.03 L1170.13 494.84 L1170.59 494.67 L1171.05 494.5 L1171.51 494.33 L1171.97 494.18 L1172.43 494.03 L1172.89 493.89 L1173.35 493.75 L1173.81 493.62 L1174.27 493.49 L1174.73 493.37 L1175.19 493.25 L1175.65 493.12 L1176.11 493 L1176.57 492.89 L1177.03 492.77 L1177.49 492.66 L1177.95 492.55 L1178.41 492.44 L1178.87 492.33 L1179.33 492.22 L1179.79 492.12 L1180.25 492.01 L1180.71 491.91 L1181.17 491.82 L1181.63 491.72 L1182.09 491.63 L1182.55 491.53 L1183.01 491.44 L1183.47 491.35 L1183.93 491.27 L1184.39 491.18 L1188.15 490.57 L1191.91 490.05 L1195.66 489.59 L1199.42 489.22 L1203.18 488.92 L1206.94 488.69 L1210.7 488.49 L1214.46 488.33 L1218.22 488.19 L1221.98 488.08 L1225.74 487.99 L1229.5 487.92 L1233.26 487.86 L1237.02 487.81 L1240.78 487.77 L1244.54 487.73 L1248.29 487.7 L1252.05 487.67 L1255.81 487.64 L1259.57 487.62 L1263.33 487.6 L1267.09 487.58 L1270.85 487.57 L1274.61 487.56 L1278.37 487.55 L1282.13 487.54 L1285.89 487.53 L1289.65 487.53 L1293.41 487.52 L1297.17 487.52 L1300.93 487.51 L1304.68 487.51 L1308.44 487.51 L1312.2 487.51 L1315.96 487.5 L1319.72 487.5 L1323.48 487.5 L1327.24 487.5 L1331 487.5" fill="none" stroke="#E52161" stroke-width="4.5" stroke-linecap="square" stroke-linejoin="round" stroke-dasharray="17.744 17.744"/>
<path d="M789.2 814.5 L792.95 814.5 L796.7 814.5 L800.46 814.5 L804.21 814.5 L807.96 814.5 L811.71 814.5 L815.46 814.5 L819.22 814.5 L822.97 814.5 L826.72 814.5 L830.47 814.5 L834.22 814.5 L837.98 814.5 L841.73 814.5 L845.48 814.5 L849.23 814.5 L852.98 814.5 L856.74 814.5 L860.49 814.5 L864.24 814.5 L867.99 814.5 L871.74 814.5 L875.5 814.5 L879.25 814.5 L883 814.5 L886.75 814.5 L890.5 814.5 L894.25 814.5 L898.01 814.5 L901.76 814.5 L905.51 814.5 L909.26 814.5 L913.01 814.5 L916.77 814.5 L920.52 814.5 L924.27 814.5 L928.02 814.5 L931.77 814.5 L935.53 814.5 L935.99 814.5 L936.45 814.5 L936.91 814.5 L937.37 814.5 L937.83 814.5 L938.29 814.5 L938.75 814.5 L939.21 814.5 L939.67 814.5 L940.13 814.5 L940.59 814.5 L941.05 814.5 L941.51 814.5 L941.97 814.5 L942.43 814.5 L942.89 814.5 L943.35 814.5 L943.81 814.5 L944.27 814.5 L944.73 814.5 L945.19 814.5 L945.65 814.5 L946.11 814.5 L946.57 814.5 L947.03 814.5 L947.49 814.5 L947.95 814.5 L948.41 814.5 L948.87 814.49 L949.33 814.49 L949.79 814.49 L950.25 814.49 L950.71 814.49 L951.17 814.49 L951.63 814.48 L952.09 814.48 L952.55 814.48 L953.01 814.47 L953.47 814.47 L953.93 814.47 L954.39 814.46 L954.85 814.46 L955.31 814.45 L955.77 814.45 L956.23 814.44 L956.69 814.44 L957.15 814.43 L957.61 814.42 L958.07 814.42 L958.53 814.41 L958.99 814.4 L959.45 814.4 L959.91 814.39 L960.37 814.38 L960.83 814.37 L961.29 814.36 L961.75 814.35 L962.21 814.34 L962.67 814.33 L963.13 814.32 L963.59 814.31 L964.05 814.3 L964.51 814.29 L964.97 814.27 L965.43 814.26 L965.89 814.24 L966.35 814.22 L966.81 814.2 L967.27 814.18 L967.73 814.15 L968.19 814.12 L968.65 814.09 L969.11 814.06 L969.57 814.03 L970.03 813.99 L970.49 813.95 L970.95 813.91 L971.41 813.86 L971.87 813.81 L972.33 813.76 L972.79 813.7 L973.25 813.64 L973.71 813.58 L974.17 813.52 L974.63 813.45 L975.09 813.36 L975.55 813.26 L976.01 813.15 L976.47 813.03 L976.93 812.89 L977.39 812.74 L977.85 812.57 L978.31 812.4 L978.77 812.2 L979.23 812 L979.69 811.78 L980.15 811.55 L980.61 811.31 L981.07 811.05 L981.53 810.74 L981.99 810.39 L982.45 809.99 L982.91 809.54 L983.37 809.02 L983.83 808.45 L984.29 807.76 L984.75 806.93 L985.21 805.95 L985.67 804.85 L986.13 803.63 L986.59 802.33 L987.05 800.91 L987.51 799.31 L987.97 797.47 L988.43 795.31 L988.89 792.75 L989.35 789.56 L989.81 785.73 L990.27 781.3 L990.73 776.38 L991.19 770.96 L991.65 764.75 L992.11 757.45 L992.57 749.62 L993.03 742.19 L993.49 734.39 L993.95 725.25 L994.41 716.01 L994.87 707.14 L995.33 696.67 L995.79 684.83 L996.25 672.71 L996.71 661.42 L997.17 650.98 L997.63 640.56 L998.09 629.28 L998.55 616.64 L999.01 603.07 L999.47 589.1 L999.93 575.22 L1000.39 561.75 L1000.85 548.91 L1001.31 536.51 L1001.77 524.96 L1002.23 514.9 L1002.69 506.74 L1003.15 500.46 L1003.61 495.75 L1004.07 492.33 L1004.53 489.95 L1004.99 488.44 L1005.45 487.67 L1005.91 487.52 L1006.37 487.92 L1006.83 488.7 L1007.29 489.7 L1007.75 490.79 L1008.21 491.84 L1008.67 492.74 L1009.13 493.42 L1009.59 493.81 L1010.05 493.87 L1010.51 493.6 L1010.97 493.11 L1011.43 492.42 L1011.89 491.57 L1012.35 490.61 L1012.81 489.61 L1013.27 488.68 L1013.73 487.93 L1014.19 487.53 L1014.65 487.66 L1015.11 488.48 L1015.57 490.06 L1016.03 492.41 L1016.49 495.51 L1016.95 499.28 L1017.41 503.57 L1017.87 508.23 L1018.33 513.04 L1018.79 518.19 L1019.25 523.74 L1019.71 529.69 L1020.17 536 L1020.63 542.65 L1021.09 549.6 L1021.55 556.84 L1022.01 564.36 L1022.47 572.1 L1022.93 580.02 L1023.39 588.06 L1023.85 595.94 L1024.31 603.1 L1024.77 609.8 L1025.23 616.37 L1025.69 623.19 L1026.15 630.62 L1026.61 639.07 L1027.07 648.16 L1027.53 657.2 L1027.99 665.47 L1028.45 672.53 L1028.91 678.84 L1029.37 684.71 L1029.83 690.38 L1030.29 696.08 L1030.75 702.05 L1031.21 708.49 L1031.67 715.06 L1032.13 721.55 L1032.59 727.93 L1033.05 734.18 L1033.51 740.27 L1033.97 746.21 L1034.43 751.93 L1034.89 757.42 L1035.35 762.73 L1035.81 767.87 L1036.27 772.89 L1036.73 777.78 L1037.19 782.56 L1037.65 787.25 L1038.11 792.32 L1038.57 797.59 L1039.03 802.61 L1039.49 806.98 L1039.95 810.43 L1040.41 812.82 L1040.87 814.14 L1041.33 814.5 L1041.79 814.08 L1042.25 812.93 L1042.71 811.05 L1043.17 808.46 L1043.63 805.2 L1044.09 801.29 L1044.55 796.78 L1045.01 791.72 L1045.47 786.16 L1045.93 780.12 L1046.39 773.65 L1046.85 766.87 L1047.31 759.92 L1047.77 752.95 L1048.23 746.11 L1048.69 739.3 L1049.15 732.38 L1049.61 725.33 L1050.07 718.15 L1050.53 710.83 L1050.99 703.37 L1051.45 695.85 L1051.91 688.28 L1052.37 680.68 L1052.83 673.04 L1053.29 665.54 L1053.75 660.35 L1054.21 657.25 L1054.67 655.15 L1055.13 652.93 L1055.59 649.51 L1056.05 643.76 L1056.51 634.6 L1056.97 621.87 L1057.43 608.6 L1057.89 595.55 L1058.35 583.08 L1058.81 571.1 L1059.27 559.69 L1059.73 548.96 L1060.19 539.56 L1060.65 531.57 L1061.11 524.71 L1061.57 518.78 L1062.03 513.56 L1062.49 508.95 L1062.95 505 L1063.41 501.65 L1063.87 498.85 L1064.33 496.53 L1064.79 494.63 L1065.25 493.09 L1065.71 491.87 L1066.17 490.9 L1066.63 490.16 L1067.09 489.55 L1067.55 489.05 L1068.01 488.63 L1068.47 488.3 L1068.93 488.04 L1069.39 487.85 L1069.85 487.71 L1070.31 487.61 L1070.77 487.55 L1071.23 487.52 L1071.69 487.5 L1072.15 487.5 L1072.61 487.51 L1073.07 487.51 L1073.53 487.51 L1073.99 487.51 L1074.45 487.51 L1074.91 487.5 L1075.37 487.51 L1075.83 487.52 L1076.29 487.54 L1076.75 487.57 L1077.21 487.62 L1077.67 487.68 L1078.13 487.76 L1078.59 487.85 L1079.05 487.96 L1079.51 488.1 L1079.97 488.25 L1080.43 488.42 L1080.89 488.62 L1081.35 488.84 L1081.81 489.09 L1082.27 489.37 L1082.73 489.68 L1083.19 490.02 L1083.65 490.4 L1084.11 490.79 L1084.57 491.2 L1085.03 491.62 L1085.49 492.07 L1085.95 492.55 L1086.41 493.05 L1086.87 493.58 L1087.33 494.15 L1087.79 494.76 L1088.25 495.42 L1088.71 496.14 L1089.17 496.91 L1089.63 497.75 L1090.09 498.68 L1090.55 499.69 L1091.01 500.8 L1091.47 502.02 L1091.93 503.36 L1092.39 504.85 L1092.85 506.52 L1093.31 508.42 L1093.77 510.54 L1094.23 512.87 L1094.69 515.41 L1095.15 518.14 L1095.61 521.05 L1096.07 524.12 L1096.53 527.32 L1096.99 530.62 L1097.45 534.1 L1097.91 537.75 L1098.37 541.58 L1098.83 545.59 L1099.29 549.78 L1099.75 554.13 L1100.21 558.72 L1100.67 563.8 L1101.13 569.65 L1101.59 576.58 L1102.05 584.94 L1102.51 594.62 L1102.97 604.87 L1103.43 615.1 L1103.89 626.72 L1104.35 641.09 L1104.81 656.55 L1105.27 672.13 L1105.73 689.37 L1106.19 706.49 L1106.65 719.07 L1107.11 730.27 L1107.57 740.68 L1108.03 750.32 L1108.49 759.15 L1108.95 767.65 L1109.41 776.65 L1109.87 786.56 L1110.33 796.51 L1110.79 806.03 L1111.25 812.54 L1111.71 814.5 L1112.17 812.95 L1112.63 808.58 L1113.09 802.2 L1113.55 795.1 L1114.01 787.68 L1114.47 779.79 L1114.93 771.6 L1115.39 763.22 L1115.85 754.59 L1116.31 745.37 L1116.77 734.91 L1117.23 722.71 L1117.69 710.35 L1118.15 699.52 L1118.61 690.43 L1119.07 682.74 L1119.53 676.03 L1119.99 669.82 L1120.45 664.06 L1120.91 658.83 L1121.37 654.24 L1121.83 650.37 L1122.29 647.3 L1122.75 645.12 L1123.21 643.9 L1123.67 643.73 L1124.13 644.58 L1124.59 645.85 L1125.05 647.44 L1125.51 649.36 L1125.97 651.62 L1126.43 654.23 L1126.89 657.19 L1127.35 660.5 L1127.81 664.18 L1128.27 668.24 L1128.73 672.69 L1129.19 677.46 L1129.65 682.25 L1130.11 686.76 L1130.57 690.71 L1131.03 694.41 L1131.49 698.03 L1131.95 701.52 L1132.41 704.83 L1132.87 707.99 L1133.33 711.1 L1133.79 714.17 L1134.25 717.25 L1134.71 720.34 L1135.17 723.46 L1135.63 726.57 L1136.09 729.64 L1136.55 732.66 L1137.01 735.58 L1137.47 738.41 L1137.93 741.16 L1138.39 743.83 L1138.85 746.45 L1139.31 749.02 L1139.77 751.54 L1140.23 753.98 L1140.69 756.34 L1141.15 758.63 L1141.61 760.84 L1142.07 762.98 L1142.53 765.04 L1142.99 766.99 L1143.45 768.83 L1143.91 770.57 L1144.37 772.22 L1144.83 773.79 L1145.29 775.29 L1145.75 776.73 L1146.21 778.12 L1146.67 779.46 L1147.13 780.76 L1147.59 782.01 L1148.05 783.22 L1148.51 784.38 L1148.97 785.49 L1149.43 786.57 L1149.89 787.59 L1150.35 788.58 L1150.81 789.52 L1151.27 790.42 L1151.73 791.28 L1152.19 792.09 L1152.65 792.87 L1153.11 793.6 L1153.57 794.31 L1154.03 794.98 L1154.49 795.64 L1154.95 796.27 L1155.41 796.87 L1155.87 797.45 L1156.33 798.01 L1156.79 798.54 L1157.25 799.05 L1157.71 799.54 L1158.17 800 L1158.63 800.44 L1159.09 800.85 L1159.55 801.25 L1160.01 801.62 L1160.47 801.97 L1160.93 802.29 L1161.39 802.6 L1161.85 802.89 L1162.31 803.18 L1162.77 803.46 L1163.23 803.74 L1163.69 804.01 L1164.15 804.28 L1164.61 804.54 L1165.07 804.79 L1165.53 805.04 L1165.99 805.28 L1166.45 805.52 L1166.91 805.74 L1167.37 805.97 L1167.83 806.18 L1168.29 806.39 L1168.75 806.59 L1169.21 806.79 L1169.67 806.98 L1170.13 807.16 L1170.59 807.34 L1171.05 807.51 L1171.51 807.67 L1171.97 807.82 L1172.43 807.97 L1172.89 808.12 L1173.35 808.25 L1173.81 808.38 L1174.27 808.51 L1174.73 808.64 L1175.19 808.76 L1175.65 808.88 L1176.11 809 L1176.57 809.12 L1177.03 809.23 L1177.49 809.34 L1177.95 809.46 L1178.41 809.57 L1178.87 809.68 L1179.33 809.78 L1179.79 809.89 L1180.25 809.99 L1180.71 810.09 L1181.17 810.19 L1181.63 810.28 L1182.09 810.38 L1182.55 810.47 L1183.01 810.56 L1183.47 810.65 L1183.93 810.74 L1184.39 810.82 L1188.15 811.43 L1191.91 811.96 L1195.66 812.41 L1199.42 812.78 L1203.18 813.08 L1206.94 813.31 L1210.7 813.51 L1214.46 813.68 L1218.22 813.81 L1221.98 813.92 L1225.74 814.01 L1229.5 814.08 L1233.26 814.14 L1237.02 814.19 L1240.78 814.23 L1244.54 814.27 L1248.29 814.31 L1252.05 814.34 L1255.81 814.36 L1259.57 814.38 L1263.33 814.4 L1267.09 814.42 L1270.85 814.43 L1274.61 814.44 L1278.37 814.45 L1282.13 814.46 L1285.89 814.47 L1289.65 814.48 L1293.41 814.48 L1297.17 814.49 L1300.93 814.49 L1304.68 814.49 L1308.44 814.5 L1312.2 814.5 L1315.96 814.5 L1319.72 814.5 L1323.48 814.5 L1327.24 814.5 L1331 814.5" fill="none" stroke="#E52161" stroke-width="4.5" stroke-linecap="square" stroke-linejoin="round"/>
</g>
<path d="M789.2 825.1 v-6.6 M789.2 476.1 v6.6 M816.29 825.1 v-3.9 M816.29 476.1 v3.9 M843.38 825.1 v-3.9 M843.38 476.1 v3.9 M870.47 825.1 v-3.9 M870.47 476.1 v3.9 M897.56 825.1 v-3.9 M897.56 476.1 v3.9 M924.65 825.1 v-6.6 M924.65 476.1 v6.6 M951.74 825.1 v-3.9 M951.74 476.1 v3.9 M978.83 825.1 v-3.9 M978.83 476.1 v3.9 M1005.92 825.1 v-3.9 M1005.92 476.1 v3.9 M1033.01 825.1 v-3.9 M1033.01 476.1 v3.9 M1060.1 825.1 v-6.6 M1060.1 476.1 v6.6 M1087.19 825.1 v-3.9 M1087.19 476.1 v3.9 M1114.28 825.1 v-3.9 M1114.28 476.1 v3.9 M1141.37 825.1 v-3.9 M1141.37 476.1 v3.9 M1168.46 825.1 v-3.9 M1168.46 476.1 v3.9 M1195.55 825.1 v-6.6 M1195.55 476.1 v6.6 M1222.64 825.1 v-3.9 M1222.64 476.1 v3.9 M1249.73 825.1 v-3.9 M1249.73 476.1 v3.9 M1276.82 825.1 v-3.9 M1276.82 476.1 v3.9 M1303.91 825.1 v-3.9 M1303.91 476.1 v3.9 M1331 825.1 v-6.6 M1331 476.1 v6.6 M778 814.5 h6.6 M1342.3 814.5 h-6.6 M778 797.99 h3.9 M1342.3 797.99 h-3.9 M778 781.47 h3.9 M1342.3 781.47 h-3.9 M778 764.96 h3.9 M1342.3 764.96 h-3.9 M778 748.44 h6.6 M1342.3 748.44 h-6.6 M778 731.92 h3.9 M1342.3 731.92 h-3.9 M778 715.41 h3.9 M1342.3 715.41 h-3.9 M778 698.89 h3.9 M1342.3 698.89 h-3.9 M778 682.38 h6.6 M1342.3 682.38 h-6.6 M778 665.87 h3.9 M1342.3 665.87 h-3.9 M778 649.35 h3.9 M1342.3 649.35 h-3.9 M778 632.84 h3.9 M1342.3 632.84 h-3.9 M778 616.32 h6.6 M1342.3 616.32 h-6.6 M778 599.8 h3.9 M1342.3 599.8 h-3.9 M778 583.29 h3.9 M1342.3 583.29 h-3.9 M778 566.77 h3.9 M1342.3 566.77 h-3.9 M778 550.26 h6.6 M1342.3 550.26 h-6.6 M778 533.74 h3.9 M1342.3 533.74 h-3.9 M778 517.23 h3.9 M1342.3 517.23 h-3.9 M778 500.71 h3.9 M1342.3 500.71 h-3.9 M778 484.2 h6.6 M1342.3 484.2 h-6.6" stroke="#000" stroke-width="1.6" fill="none"/>
<line x1="1060.1" y1="476.1" x2="1060.1" y2="825.1" stroke="#000" stroke-width="1.8"/>
<rect x="778" y="476.1" width="564.3" height="349" fill="none" stroke="#000" stroke-width="2"/>
<text x="771.5" y="826.56" font-size="36" text-anchor="end">0.0</text>
<text x="771.5" y="760.5" font-size="36" text-anchor="end">0.2</text>
<text x="771.5" y="694.44" font-size="36" text-anchor="end">0.4</text>
<text x="771.5" y="628.38" font-size="36" text-anchor="end">0.6</text>
<text x="771.5" y="562.32" font-size="36" text-anchor="end">0.8</text>
<text x="771.5" y="496.26" font-size="36" text-anchor="end">1.0</text>
<text x="758.6" y="864.14" font-size="36"><tspan textLength="24.48" lengthAdjust="spacingAndGlyphs">−</tspan><tspan x="783.8">10</tspan></text>
<text x="903.05" y="864.14" font-size="36"><tspan textLength="24.48" lengthAdjust="spacingAndGlyphs">−</tspan><tspan x="928.25">5</tspan></text>
<text x="1060.1" y="864.14" font-size="36" text-anchor="middle">0</text>
<text x="1195.55" y="864.14" font-size="36" text-anchor="middle">5</text>
<text x="1331" y="864.14" font-size="36" text-anchor="middle">10</text>
<text x="1037.15" y="910.1" font-size="36">Δ<tspan dx="-5.5">B</tspan></text>
<text transform="translate(713.5 652.1) rotate(-90)" font-size="36" text-anchor="middle">Transmission</text>
</g>
<g id="annotations">
<text class="tag" x="119.6" y="94" font-size="46.5" textLength="54.0" lengthAdjust="spacingAndGlyphs">(a)</text>
<text class="tag" x="824.3" y="105" font-size="46.5" textLength="52.5" lengthAdjust="spacingAndGlyphs">(c)</text>
<text class="tag" x="108" y="565.5" font-size="46.5" textLength="57.0" lengthAdjust="spacingAndGlyphs">(b)</text>
<text class="tag" x="802.5" y="560.4" font-size="46.5" textLength="56.5" lengthAdjust="spacingAndGlyphs">(d)</text>
<text class="sm" x="123" y="254" font-size="20.3">Tx=dashed</text>
<text class="sm" x="128" y="298" font-size="20.3">Ty=solid</text>
<text class="sm" x="485" y="298" font-size="20.3">Cold Atom</text>
<text class="sm" x="794" y="273" font-size="20.3">Tx=Dashed</text>
<text class="sm" x="794" y="314" font-size="20.3">Ty=Solid</text>
<text class="sm" x="1184" y="284" font-size="20.3">THERMAL</text>
<text class="sm" x="1184" y="313" font-size="20.3">ATOM</text>
<text class="sm" x="115" y="736" font-size="20.3">Tx=Dashed</text>
<text class="sm" x="119" y="777" font-size="20.3">Ty=Solid</text>
<text class="sm" x="511" y="774" font-size="20.3">Cold Atoms</text>
<text class="sm" x="806" y="750" font-size="20.3">Tx=Dashed</text>
<text class="sm" x="811" y="784" font-size="20.3">Ty=Solid</text>
<text class="sm" x="1215" y="745" font-size="20.3">THERMAL</text>
<text class="sm" x="1215" y="774" font-size="20.3">ATOM</text>
<text class="sm" x="486.5" y="91.4" font-size="20" textLength="33.8" lengthAdjust="spacingAndGlyphs"><tspan font-style="italic">ϕ</tspan>=0</text>
<text class="sm" x="1171.5" y="82.8" font-size="20" textLength="33.8" lengthAdjust="spacingAndGlyphs"><tspan font-style="italic">ϕ</tspan>=0</text>
<text class="sm" x="540" y="543.7" font-size="20" textLength="48.6" lengthAdjust="spacingAndGlyphs"><tspan font-style="italic">ϕ</tspan>=<tspan font-style="italic">π</tspan>/4</text>
<text class="sm" x="1235.2" y="535.7" font-size="20" textLength="48.6" lengthAdjust="spacingAndGlyphs"><tspan font-style="italic">ϕ</tspan>=<tspan font-style="italic">π</tspan>/4</text>
</g>
</svg></body></html>
